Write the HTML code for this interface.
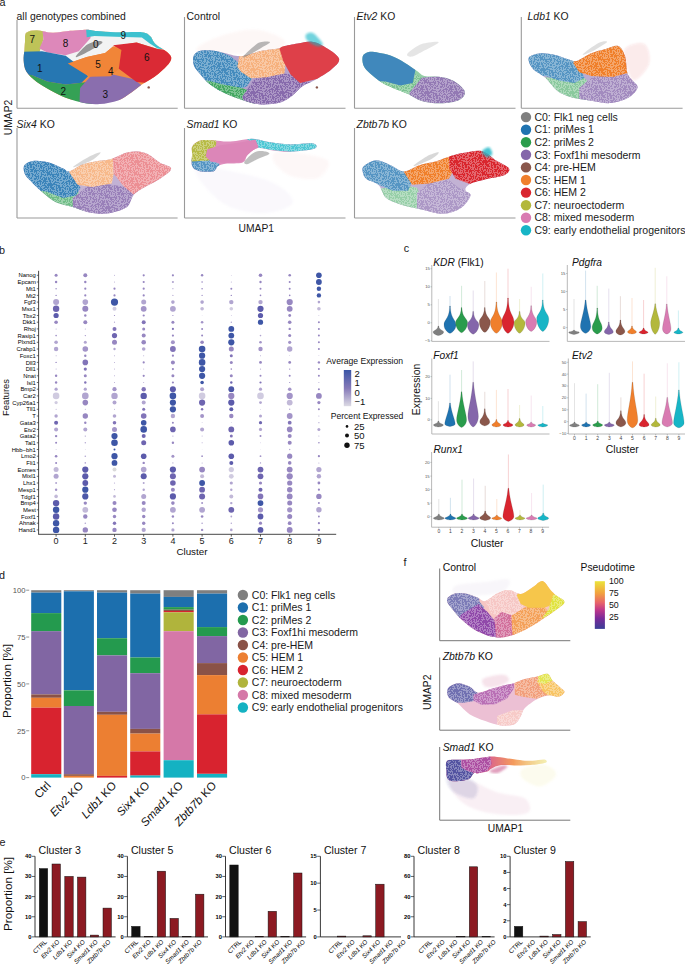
<!DOCTYPE html><html><head><meta charset="utf-8"><style>html,body{margin:0;padding:0;background:#fff;width:685px;height:966px;overflow:hidden}svg{display:block;font-family:"Liberation Sans",sans-serif}</style></head><body>
<svg width="685" height="966" viewBox="0 0 685 966" font-family="'Liberation Sans', sans-serif">
<defs><filter id="bl" x="-10%" y="-10%" width="120%" height="120%"><feGaussianBlur stdDeviation="1.2"/></filter><filter id="bl1" x="-5%" y="-5%" width="110%" height="110%"><feGaussianBlur stdDeviation="0.55"/></filter><filter id="bl2" x="-10%" y="-10%" width="120%" height="120%"><feGaussianBlur stdDeviation="2"/></filter><linearGradient id="avg" x1="0" y1="0" x2="0" y2="1"><stop offset="0" stop-color="#3a55a6"/><stop offset="0.5" stop-color="#8579b8"/><stop offset="1" stop-color="#dcdae4"/></linearGradient><linearGradient id="pst" x1="0" y1="0" x2="0" y2="1"><stop offset="0" stop-color="#ebe43a"/><stop offset="0.25" stop-color="#f2a23e"/><stop offset="0.45" stop-color="#e8646a"/><stop offset="0.6" stop-color="#c0388a"/><stop offset="0.78" stop-color="#7a2a9a"/><stop offset="1" stop-color="#3a3f96"/></linearGradient><pattern id="spf" patternUnits="userSpaceOnUse" width="29" height="23"><path d="M20.2,3.2h0.6v0.6h-0.6zM24.2,21.2h0.6v0.6h-0.6zM20.2,16.2h0.6v0.6h-0.6zM20.2,2.2h0.6v0.6h-0.6zM22.2,14.2h0.6v0.6h-0.6zM26.2,3.2h0.6v0.6h-0.6zM8.2,10.2h0.6v0.6h-0.6zM8.2,5.2h0.6v0.6h-0.6zM22.2,18.2h0.6v0.6h-0.6zM21.2,4.2h0.6v0.6h-0.6zM28.2,0.2h0.6v0.6h-0.6zM27.2,7.2h0.6v0.6h-0.6zM8.2,6.2h0.6v0.6h-0.6zM4.2,4.2h0.6v0.6h-0.6zM19.2,20.2h0.6v0.6h-0.6zM13.2,11.2h0.6v0.6h-0.6zM6.2,7.2h0.6v0.6h-0.6zM4.2,0.2h0.6v0.6h-0.6zM23.2,22.2h0.6v0.6h-0.6zM1.2,19.2h0.6v0.6h-0.6zM26.2,11.2h0.6v0.6h-0.6zM17.2,14.2h0.6v0.6h-0.6zM28.2,22.2h0.6v0.6h-0.6zM27.2,9.2h0.6v0.6h-0.6zM7.2,0.2h0.6v0.6h-0.6zM27.2,17.2h0.6v0.6h-0.6zM0.2,15.2h0.6v0.6h-0.6zM23.2,12.2h0.6v0.6h-0.6zM2.2,18.2h0.6v0.6h-0.6zM2.2,14.2h0.6v0.6h-0.6zM1.2,13.2h0.6v0.6h-0.6zM28.2,16.2h0.6v0.6h-0.6zM10.2,17.2h0.6v0.6h-0.6zM26.2,16.2h0.6v0.6h-0.6zM1.2,7.2h0.6v0.6h-0.6zM20.2,15.2h0.6v0.6h-0.6zM14.2,12.2h0.6v0.6h-0.6zM19.2,14.2h0.6v0.6h-0.6zM26.2,7.2h0.6v0.6h-0.6zM8.2,16.2h0.6v0.6h-0.6zM23.2,2.2h0.6v0.6h-0.6zM10.2,9.2h0.6v0.6h-0.6zM13.2,2.2h0.6v0.6h-0.6zM22.2,5.2h0.6v0.6h-0.6zM0.2,4.2h0.6v0.6h-0.6zM3.2,18.2h0.6v0.6h-0.6zM20.2,8.2h0.6v0.6h-0.6zM12.2,8.2h0.6v0.6h-0.6zM18.2,2.2h0.6v0.6h-0.6zM24.2,12.2h0.6v0.6h-0.6zM3.2,16.2h0.6v0.6h-0.6zM11.2,7.2h0.6v0.6h-0.6zM14.2,0.2h0.6v0.6h-0.6zM10.2,5.2h0.6v0.6h-0.6zM22.2,19.2h0.6v0.6h-0.6zM12.2,19.2h0.6v0.6h-0.6zM27.2,11.2h0.6v0.6h-0.6zM3.2,2.2h0.6v0.6h-0.6zM25.2,1.2h0.6v0.6h-0.6zM4.2,18.2h0.6v0.6h-0.6zM17.2,19.2h0.6v0.6h-0.6zM26.2,9.2h0.6v0.6h-0.6zM12.2,21.2h0.6v0.6h-0.6zM17.2,4.2h0.6v0.6h-0.6zM2.2,22.2h0.6v0.6h-0.6zM0.2,17.2h0.6v0.6h-0.6zM0.2,0.2h0.6v0.6h-0.6zM9.2,11.2h0.6v0.6h-0.6zM9.2,7.2h0.6v0.6h-0.6zM2.2,7.2h0.6v0.6h-0.6zM20.2,21.2h0.6v0.6h-0.6zM16.2,16.2h0.6v0.6h-0.6zM17.2,15.2h0.6v0.6h-0.6zM18.2,15.2h0.6v0.6h-0.6zM3.2,5.2h0.6v0.6h-0.6zM25.2,4.2h0.6v0.6h-0.6zM8.2,19.2h0.6v0.6h-0.6zM12.2,0.2h0.6v0.6h-0.6zM14.2,22.2h0.6v0.6h-0.6zM3.2,20.2h0.6v0.6h-0.6zM13.2,19.2h0.6v0.6h-0.6zM14.2,18.2h0.6v0.6h-0.6zM27.2,19.2h0.6v0.6h-0.6zM18.2,5.2h0.6v0.6h-0.6zM5.2,5.2h0.6v0.6h-0.6zM5.2,22.2h0.6v0.6h-0.6zM10.2,22.2h0.6v0.6h-0.6zM4.2,11.2h0.6v0.6h-0.6zM0.2,11.2h0.6v0.6h-0.6zM2.2,15.2h0.6v0.6h-0.6zM28.2,20.2h0.6v0.6h-0.6zM21.2,15.2h0.6v0.6h-0.6zM7.2,20.2h0.6v0.6h-0.6zM24.2,20.2h0.6v0.6h-0.6zM8.2,8.2h0.6v0.6h-0.6zM19.2,21.2h0.6v0.6h-0.6zM22.2,15.2h0.6v0.6h-0.6zM8.2,11.2h0.6v0.6h-0.6zM5.2,19.2h0.6v0.6h-0.6zM25.2,18.2h0.6v0.6h-0.6zM17.2,1.2h0.6v0.6h-0.6zM5.2,4.2h0.6v0.6h-0.6zM17.2,13.2h0.6v0.6h-0.6zM18.2,16.2h0.6v0.6h-0.6zM9.2,10.2h0.6v0.6h-0.6zM26.2,2.2h0.6v0.6h-0.6zM25.2,14.2h0.6v0.6h-0.6zM13.2,12.2h0.6v0.6h-0.6zM0.2,20.2h0.6v0.6h-0.6zM9.2,8.2h0.6v0.6h-0.6zM8.2,7.2h0.6v0.6h-0.6zM17.2,12.2h0.6v0.6h-0.6zM4.2,10.2h0.6v0.6h-0.6zM1.2,20.2h0.6v0.6h-0.6zM6.2,11.2h0.6v0.6h-0.6zM26.2,1.2h0.6v0.6h-0.6zM19.2,15.2h0.6v0.6h-0.6zM11.2,11.2h0.6v0.6h-0.6zM0.2,9.2h0.6v0.6h-0.6zM14.2,14.2h0.6v0.6h-0.6zM13.2,4.2h0.6v0.6h-0.6zM26.2,5.2h0.6v0.6h-0.6zM3.2,6.2h0.6v0.6h-0.6zM3.2,7.2h0.6v0.6h-0.6zM28.2,5.2h0.6v0.6h-0.6zM9.2,6.2h0.6v0.6h-0.6zM10.2,18.2h0.6v0.6h-0.6zM25.2,9.2h0.6v0.6h-0.6zM16.2,9.2h0.6v0.6h-0.6zM16.2,12.2h0.6v0.6h-0.6zM20.2,4.2h0.6v0.6h-0.6zM5.2,15.2h0.6v0.6h-0.6zM21.2,12.2h0.6v0.6h-0.6zM6.2,0.2h0.6v0.6h-0.6zM23.2,16.2h0.6v0.6h-0.6zM8.2,3.2h0.6v0.6h-0.6zM6.2,19.2h0.6v0.6h-0.6zM25.2,11.2h0.6v0.6h-0.6zM10.2,3.2h0.6v0.6h-0.6zM11.2,2.2h0.6v0.6h-0.6zM27.2,14.2h0.6v0.6h-0.6zM7.2,1.2h0.6v0.6h-0.6zM8.2,17.2h0.6v0.6h-0.6zM17.2,6.2h0.6v0.6h-0.6zM21.2,11.2h0.6v0.6h-0.6zM3.2,11.2h0.6v0.6h-0.6zM18.2,17.2h0.6v0.6h-0.6zM2.2,2.2h0.6v0.6h-0.6zM4.2,14.2h0.6v0.6h-0.6zM4.2,19.2h0.6v0.6h-0.6zM1.2,16.2h0.6v0.6h-0.6zM11.2,8.2h0.6v0.6h-0.6zM10.2,14.2h0.6v0.6h-0.6zM17.2,10.2h0.6v0.6h-0.6zM11.2,10.2h0.6v0.6h-0.6zM24.2,11.2h0.6v0.6h-0.6zM18.2,7.2h0.6v0.6h-0.6zM28.2,12.2h0.6v0.6h-0.6zM13.2,6.2h0.6v0.6h-0.6zM10.2,21.2h0.6v0.6h-0.6zM6.2,12.2h0.6v0.6h-0.6zM11.2,13.2h0.6v0.6h-0.6zM25.2,12.2h0.6v0.6h-0.6zM27.2,10.2h0.6v0.6h-0.6zM16.2,0.2h0.6v0.6h-0.6zM21.2,17.2h0.6v0.6h-0.6zM1.2,12.2h0.6v0.6h-0.6zM27.2,20.2h0.6v0.6h-0.6zM5.2,1.2h0.6v0.6h-0.6zM10.2,15.2h0.6v0.6h-0.6zM12.2,10.2h0.6v0.6h-0.6zM27.2,22.2h0.6v0.6h-0.6zM18.2,22.2h0.6v0.6h-0.6zM13.2,16.2h0.6v0.6h-0.6zM13.2,15.2h0.6v0.6h-0.6zM1.2,14.2h0.6v0.6h-0.6zM6.2,5.2h0.6v0.6h-0.6zM4.2,16.2h0.6v0.6h-0.6zM20.2,9.2h0.6v0.6h-0.6zM26.2,22.2h0.6v0.6h-0.6zM4.2,12.2h0.6v0.6h-0.6zM16.2,15.2h0.6v0.6h-0.6zM0.2,8.2h0.6v0.6h-0.6zM21.2,18.2h0.6v0.6h-0.6zM25.2,6.2h0.6v0.6h-0.6zM9.2,3.2h0.6v0.6h-0.6zM9.2,21.2h0.6v0.6h-0.6zM5.2,12.2h0.6v0.6h-0.6zM26.2,12.2h0.6v0.6h-0.6zM1.2,0.2h0.6v0.6h-0.6zM3.2,21.2h0.6v0.6h-0.6zM6.2,6.2h0.6v0.6h-0.6zM8.2,4.2h0.6v0.6h-0.6zM11.2,18.2h0.6v0.6h-0.6zM12.2,16.2h0.6v0.6h-0.6zM2.2,21.2h0.6v0.6h-0.6zM2.2,1.2h0.6v0.6h-0.6zM8.2,1.2h0.6v0.6h-0.6zM3.2,1.2h0.6v0.6h-0.6zM19.2,19.2h0.6v0.6h-0.6zM10.2,0.2h0.6v0.6h-0.6zM7.2,8.2h0.6v0.6h-0.6zM23.2,18.2h0.6v0.6h-0.6zM16.2,7.2h0.6v0.6h-0.6zM15.2,8.2h0.6v0.6h-0.6zM11.2,14.2h0.6v0.6h-0.6zM13.2,0.2h0.6v0.6h-0.6zM28.2,2.2h0.6v0.6h-0.6zM13.2,3.2h0.6v0.6h-0.6zM28.2,17.2h0.6v0.6h-0.6zM23.2,19.2h0.6v0.6h-0.6zM10.2,13.2h0.6v0.6h-0.6zM7.2,22.2h0.6v0.6h-0.6zM15.2,13.2h0.6v0.6h-0.6zM6.2,21.2h0.6v0.6h-0.6zM28.2,8.2h0.6v0.6h-0.6zM0.2,10.2h0.6v0.6h-0.6zM13.2,7.2h0.6v0.6h-0.6zM14.2,3.2h0.6v0.6h-0.6zM1.2,15.2h0.6v0.6h-0.6zM10.2,16.2h0.6v0.6h-0.6zM1.2,11.2h0.6v0.6h-0.6zM16.2,6.2h0.6v0.6h-0.6zM23.2,21.2h0.6v0.6h-0.6zM7.2,2.2h0.6v0.6h-0.6zM3.2,0.2h0.6v0.6h-0.6zM21.2,8.2h0.6v0.6h-0.6zM19.2,10.2h0.6v0.6h-0.6zM10.2,1.2h0.6v0.6h-0.6zM12.2,3.2h0.6v0.6h-0.6zM20.2,14.2h0.6v0.6h-0.6zM23.2,9.2h0.6v0.6h-0.6zM0.2,22.2h0.6v0.6h-0.6zM18.2,21.2h0.6v0.6h-0.6zM18.2,19.2h0.6v0.6h-0.6zM15.2,15.2h0.6v0.6h-0.6zM2.2,20.2h0.6v0.6h-0.6zM25.2,19.2h0.6v0.6h-0.6zM7.2,13.2h0.6v0.6h-0.6zM7.2,19.2h0.6v0.6h-0.6zM24.2,1.2h0.6v0.6h-0.6zM15.2,5.2h0.6v0.6h-0.6zM10.2,12.2h0.6v0.6h-0.6zM22.2,10.2h0.6v0.6h-0.6zM27.2,18.2h0.6v0.6h-0.6zM26.2,19.2h0.6v0.6h-0.6zM23.2,10.2h0.6v0.6h-0.6zM22.2,21.2h0.6v0.6h-0.6zM12.2,17.2h0.6v0.6h-0.6zM0.2,7.2h0.6v0.6h-0.6zM13.2,20.2h0.6v0.6h-0.6zM14.2,17.2h0.6v0.6h-0.6zM24.2,17.2h0.6v0.6h-0.6zM22.2,20.2h0.6v0.6h-0.6zM12.2,22.2h0.6v0.6h-0.6zM0.2,6.2h0.6v0.6h-0.6zM24.2,7.2h0.6v0.6h-0.6zM27.2,15.2h0.6v0.6h-0.6zM1.2,18.2h0.6v0.6h-0.6zM2.2,0.2h0.6v0.6h-0.6zM14.2,5.2h0.6v0.6h-0.6zM2.2,13.2h0.6v0.6h-0.6zM5.2,16.2h0.6v0.6h-0.6zM18.2,8.2h0.6v0.6h-0.6zM16.2,4.2h0.6v0.6h-0.6zM20.2,5.2h0.6v0.6h-0.6zM8.2,14.2h0.6v0.6h-0.6zM16.2,8.2h0.6v0.6h-0.6zM15.2,10.2h0.6v0.6h-0.6zM26.2,6.2h0.6v0.6h-0.6zM10.2,4.2h0.6v0.6h-0.6zM9.2,18.2h0.6v0.6h-0.6zM10.2,6.2h0.6v0.6h-0.6zM12.2,1.2h0.6v0.6h-0.6zM28.2,3.2h0.6v0.6h-0.6zM11.2,12.2h0.6v0.6h-0.6zM25.2,20.2h0.6v0.6h-0.6zM22.2,6.2h0.6v0.6h-0.6zM18.2,6.2h0.6v0.6h-0.6zM6.2,20.2h0.6v0.6h-0.6zM13.2,8.2h0.6v0.6h-0.6zM1.2,21.2h0.6v0.6h-0.6zM19.2,9.2h0.6v0.6h-0.6zM25.2,3.2h0.6v0.6h-0.6zM5.2,2.2h0.6v0.6h-0.6zM15.2,12.2h0.6v0.6h-0.6zM2.2,11.2h0.6v0.6h-0.6zM11.2,1.2h0.6v0.6h-0.6zM21.2,9.2h0.6v0.6h-0.6zM14.2,15.2h0.6v0.6h-0.6zM23.2,11.2h0.6v0.6h-0.6zM23.2,6.2h0.6v0.6h-0.6zM0.2,5.2h0.6v0.6h-0.6zM22.2,16.2h0.6v0.6h-0.6zM6.2,16.2h0.6v0.6h-0.6zM3.2,4.2h0.6v0.6h-0.6zM15.2,2.2h0.6v0.6h-0.6zM13.2,14.2h0.6v0.6h-0.6zM25.2,16.2h0.6v0.6h-0.6zM17.2,0.2h0.6v0.6h-0.6zM3.2,17.2h0.6v0.6h-0.6zM7.2,14.2h0.6v0.6h-0.6zM18.2,18.2h0.6v0.6h-0.6zM9.2,19.2h0.6v0.6h-0.6zM25.2,8.2h0.6v0.6h-0.6zM5.2,8.2h0.6v0.6h-0.6zM7.2,6.2h0.6v0.6h-0.6zM9.2,0.2h0.6v0.6h-0.6zM25.2,10.2h0.6v0.6h-0.6zM5.2,13.2h0.6v0.6h-0.6zM4.2,9.2h0.6v0.6h-0.6zM14.2,2.2h0.6v0.6h-0.6zM9.2,13.2h0.6v0.6h-0.6zM24.2,2.2h0.6v0.6h-0.6zM4.2,17.2h0.6v0.6h-0.6zM8.2,12.2h0.6v0.6h-0.6zM4.2,20.2h0.6v0.6h-0.6zM17.2,21.2h0.6v0.6h-0.6zM26.2,14.2h0.6v0.6h-0.6zM4.2,15.2h0.6v0.6h-0.6zM19.2,4.2h0.6v0.6h-0.6zM26.2,4.2h0.6v0.6h-0.6zM16.2,11.2h0.6v0.6h-0.6zM7.2,18.2h0.6v0.6h-0.6zM24.2,6.2h0.6v0.6h-0.6zM1.2,9.2h0.6v0.6h-0.6zM6.2,3.2h0.6v0.6h-0.6zM15.2,21.2h0.6v0.6h-0.6zM23.2,8.2h0.6v0.6h-0.6zM20.2,6.2h0.6v0.6h-0.6zM10.2,11.2h0.6v0.6h-0.6zM6.2,2.2h0.6v0.6h-0.6zM15.2,7.2h0.6v0.6h-0.6z" fill="#fff"/></pattern></defs>
<rect width="685" height="966" fill="#fff"/>
<text x="-0.6" y="5.9" font-size="10.8" text-anchor="start" fill="#1a1a1a">a</text>
<line x1="17" y1="20" x2="17" y2="108.3" stroke="#9a9a9a" stroke-width="1.1"/>
<line x1="17" y1="108.3" x2="177.7" y2="108.3" stroke="#9a9a9a" stroke-width="1.1"/>
<line x1="184.5" y1="17" x2="184.5" y2="108.3" stroke="#9a9a9a" stroke-width="1.1"/>
<line x1="184.5" y1="108.3" x2="345.5" y2="108.3" stroke="#9a9a9a" stroke-width="1.1"/>
<line x1="354.5" y1="17" x2="354.5" y2="108.3" stroke="#9a9a9a" stroke-width="1.1"/>
<line x1="354.5" y1="108.3" x2="515.5" y2="108.3" stroke="#9a9a9a" stroke-width="1.1"/>
<line x1="521.3" y1="17" x2="521.3" y2="108.3" stroke="#9a9a9a" stroke-width="1.1"/>
<line x1="521.3" y1="108.3" x2="682.6" y2="108.3" stroke="#9a9a9a" stroke-width="1.1"/>
<line x1="17" y1="128" x2="17" y2="218" stroke="#9a9a9a" stroke-width="1.1"/>
<line x1="17" y1="218" x2="177.6" y2="218" stroke="#9a9a9a" stroke-width="1.1"/>
<line x1="184.5" y1="128" x2="184.5" y2="218" stroke="#9a9a9a" stroke-width="1.1"/>
<line x1="184.5" y1="218" x2="345.5" y2="218" stroke="#9a9a9a" stroke-width="1.1"/>
<line x1="354.5" y1="128" x2="354.5" y2="218" stroke="#9a9a9a" stroke-width="1.1"/>
<line x1="354.5" y1="218" x2="515.5" y2="218" stroke="#9a9a9a" stroke-width="1.1"/>
<clipPath id="cp1"><path d="M26.3,32.8C28.2,30.9 32.4,30.2 36.8,30.2C41.2,30.2 47.3,32.7 52.5,32.8C57.8,33.0 62.6,31.5 68.3,31.0C74.0,30.5 81.9,29.7 86.7,29.7C91.5,29.7 92.4,30.6 97.2,31.0C102.0,31.4 108.2,32.1 115.6,32.3C123.1,32.5 136.1,31.7 141.9,32.3C147.7,33.0 148.0,34.3 150.3,36.3C152.6,38.2 152.0,40.6 155.5,44.1C159.0,47.7 170.9,52.8 171.3,57.8C171.7,62.8 163.1,69.6 158.2,74.1C153.3,78.6 146.3,81.5 141.9,84.6C137.4,87.7 135.3,89.9 131.4,92.5C127.4,95.1 123.5,98.4 118.2,100.4C113.0,102.3 105.5,103.6 99.8,104.0C94.1,104.5 89.8,104.0 84.1,103.0C78.4,101.9 71.4,99.9 65.7,97.7C60.0,95.6 54.7,92.5 49.9,89.9C45.1,87.2 40.7,85.0 36.8,82.0C32.8,78.9 28.5,75.1 26.3,71.5C24.1,67.9 24.0,64.0 23.6,60.4C23.3,56.8 24.2,53.0 24.4,49.9C24.7,46.9 24.7,44.9 25.0,42.0C25.3,39.2 24.3,34.8 26.3,32.8Z"/></clipPath>
<g filter="url(#bl1)"><g clip-path="url(#cp1)">
<rect x="0" y="0" width="180" height="100" fill="#f28c41"/>
<polygon points="0.0,0.0 183.9,0.0 183.9,52.5 157.6,48.9 136.6,42.6 113.0,46.5 105.1,53.1 86.7,57.0 67.8,63.6 0.0,63.6" fill="#f2f3f3"/>
<polygon points="0.0,0.0 42.0,0.0 43.4,39.4 39.4,52.5 23.6,53.9 0.0,55.2" fill="#bec359"/>
<polygon points="39.4,0.0 86.7,0.0 90.6,38.1 78.8,51.2 65.7,55.2 47.3,52.5 39.4,48.6 43.4,39.4" fill="#dd88ba"/>
<polygon points="84.1,0.0 183.9,0.0 183.9,52.5 157.6,48.6 149.8,43.4 141.9,37.6 115.6,36.8 94.6,36.0 86.7,37.3" fill="#3cc1cf"/>
<polygon points="0.0,73.6 31.5,74.9 47.3,81.5 65.7,84.6 81.5,82.8 90.6,81.5 94.6,118.2 0.0,118.2" fill="#35a155"/>
<polygon points="0.0,52.5 42.0,51.2 65.7,55.7 78.8,65.7 88.0,76.2 81.5,82.8 65.7,84.6 47.3,81.5 31.5,74.9 0.0,73.6" fill="#2677b2"/>
<polygon points="78.8,118.2 80.1,88.0 90.6,76.2 110.4,74.1 134.0,79.3 183.9,118.2" fill="#8a6eae"/>
<polygon points="67.8,63.6 86.7,57.0 105.1,53.1 113.0,46.5 121.4,49.9 118.8,68.8 110.9,76.2 89.3,76.7" fill="#f18537"/>
<polygon points="113.0,45.2 136.6,42.6 157.6,48.9 183.9,52.5 183.9,86.7 136.6,82.0 118.8,68.8 121.4,49.9" fill="#da2c35"/>
</g></g>
<path d="M76.4,55.6C77.9,53.6 83.8,47.0 87.3,44.6C90.7,42.2 94.4,41.5 96.9,41.2C99.4,40.9 103.7,41.1 102.2,42.9C100.7,44.6 91.8,49.5 87.7,51.8C83.7,54.1 80.0,56.0 78.1,56.6C76.2,57.3 74.9,57.7 76.4,55.6Z" fill="#7f7f7f" fill-opacity="0.8"/>
<circle cx="148.7" cy="87.4" r="1.2" fill="#8a574b"/>
<text x="32.3" y="42.9" font-size="10" text-anchor="middle" fill="#111">7</text>
<text x="65.6" y="46.5" font-size="10" text-anchor="middle" fill="#111">8</text>
<text x="95.7" y="47.7" font-size="10" text-anchor="middle" fill="#111">0</text>
<text x="123.4" y="39.3" font-size="10" text-anchor="middle" fill="#111">9</text>
<text x="39.8" y="71.8" font-size="10" text-anchor="middle" fill="#111">1</text>
<text x="98.1" y="68.2" font-size="10" text-anchor="middle" fill="#111">5</text>
<text x="110.9" y="75.4" font-size="10" text-anchor="middle" fill="#111">4</text>
<text x="146.7" y="61.4" font-size="10" text-anchor="middle" fill="#111">6</text>
<text x="63.2" y="95.1" font-size="10" text-anchor="middle" fill="#111">2</text>
<text x="105.3" y="98.3" font-size="10" text-anchor="middle" fill="#111">3</text>
<path d="M196.5,48.9C197.7,46.1 208.5,40.1 218.1,36.9C227.8,33.6 243.4,29.2 254.3,29.6C265.1,30.0 279.1,36.1 283.2,39.3C287.2,42.5 285.2,46.5 278.3,48.9C271.5,51.3 253.5,52.9 242.2,53.7C231.0,54.5 218.5,54.5 210.9,53.7C203.3,52.9 195.2,51.7 196.5,48.9Z" fill="#e38a7a" fill-opacity="0.07" filter="url(#bl)"/>
<clipPath id="cp2"><path d="M193.6,56.1C194.4,53.7 196.4,52.3 198.9,51.3C201.3,50.3 204.9,50.2 208.5,50.3C212.1,50.5 215.7,51.1 220.5,52.0C225.4,53.0 233.0,55.6 237.4,56.1C241.8,56.6 243.0,55.8 247.0,54.9C251.0,54.0 256.3,51.9 261.5,50.8C266.7,49.7 274.7,49.1 278.3,48.4C282.0,47.7 279.9,47.3 283.2,46.5C286.4,45.7 292.8,44.4 297.6,43.6C302.4,42.8 307.6,41.2 312.1,41.7C316.5,42.2 319.6,43.7 324.1,46.5C328.6,49.3 337.8,54.7 339.0,58.5C340.2,62.3 335.4,65.8 331.3,69.4C327.2,73.0 319.3,77.4 314.5,80.2C309.6,83.0 306.4,83.4 302.4,86.2C298.4,89.0 294.4,94.3 290.4,97.1C286.4,99.9 283.6,101.9 278.3,103.1C273.1,104.3 265.1,104.8 259.1,104.3C253.1,103.8 247.8,101.8 242.2,100.0C236.6,98.2 230.6,95.9 225.4,93.5C220.1,91.0 214.9,88.0 210.9,85.0C206.9,82.0 204.1,78.6 201.3,75.4C198.5,72.2 195.3,69.0 194.0,65.8C192.8,62.5 192.8,58.5 193.6,56.1Z"/></clipPath>
<g filter="url(#bl1)"><g clip-path="url(#cp2)">
<rect x="182" y="20" width="180" height="100" fill="#b5a3cc"/>
<polygon points="182.0,44.1 213.3,48.9 230.2,56.1 242.2,65.8 252.3,77.8 247.0,86.2 235.0,91.1 182.0,92.3" fill="#458bbd"/><polygon points="182.0,44.1 213.3,48.9 230.2,56.1 242.2,65.8 252.3,77.8 247.0,86.2 235.0,91.1 182.0,92.3" fill="url(#spf)"/>
<polygon points="182.0,80.2 208.5,80.7 222.9,84.5 239.8,87.4 254.7,92.3 254.3,116.3 182.0,116.3" fill="#44a862"/><polygon points="182.0,80.2 208.5,80.7 222.9,84.5 239.8,87.4 254.7,92.3 254.3,116.3 182.0,116.3" fill="url(#spf)"/>
<polygon points="242.2,97.1 254.3,79.0 273.5,73.0 291.6,74.2 307.2,81.4 350.6,92.3 350.6,116.3 249.4,116.3" fill="#876aac"/><polygon points="242.2,97.1 254.3,79.0 273.5,73.0 291.6,74.2 307.2,81.4 350.6,92.3 350.6,116.3 249.4,116.3" fill="url(#spf)"/>
<polygon points="237.4,67.0 244.6,20.0 283.2,20.0 286.0,59.7 284.4,73.5 266.3,77.3 250.6,78.3 241.0,71.8" fill="#f6b17e"/><polygon points="237.4,67.0 244.6,20.0 283.2,20.0 286.0,59.7 284.4,73.5 266.3,77.3 250.6,78.3 241.0,71.8" fill="url(#spf)"/>
<polygon points="280.7,20.0 350.6,20.0 350.6,116.3 316.9,79.0 300.0,83.1 290.4,74.2 283.2,60.9 279.5,48.4" fill="#de3f48"/>
</g></g>
<path d="M306.0,34.5C307.0,33.2 310.5,31.6 313.3,33.2C316.1,34.9 322.3,42.0 322.9,44.1C323.5,46.2 319.5,46.6 316.9,46.0C314.3,45.4 309.0,42.4 307.2,40.5C305.4,38.5 305.0,35.7 306.0,34.5Z" fill="#17b5c6" fill-opacity="0.6" filter="url(#bl)"/>
<path d="M243.4,56.1C244.8,54.4 251.4,48.3 254.3,46.0C257.1,43.7 257.7,42.8 260.3,42.2C262.9,41.5 269.7,41.2 269.9,42.2C270.1,43.1 265.5,45.3 261.5,47.7C257.5,50.1 248.8,55.2 245.8,56.6C242.8,58.0 242.0,57.9 243.4,56.1Z" fill="#7f7f7f" fill-opacity="0.55"/>
<circle cx="316.9" cy="87.4" r="1.2" fill="#8a574b"/>
<clipPath id="cp3"><path d="M362.8,56.1C363.7,53.8 366.3,52.6 368.9,52.0C371.5,51.5 374.9,52.2 378.5,52.8C382.1,53.4 386.1,54.0 390.5,55.6C395.0,57.3 400.6,60.3 405.0,62.9C409.4,65.4 413.8,68.9 417.0,71.1C420.2,73.2 420.6,74.9 424.3,75.9C427.9,76.8 433.9,76.0 438.7,76.8C443.5,77.6 448.8,78.3 453.2,80.7C457.5,83.1 463.7,88.1 464.7,91.3C465.7,94.5 463.1,98.0 459.2,100.0C455.2,102.0 447.3,103.2 441.1,103.3C434.9,103.5 427.5,102.5 421.8,100.9C416.2,99.3 412.2,95.9 407.4,93.7C402.6,91.5 397.4,89.9 392.9,87.9C388.5,86.0 384.7,84.3 380.9,81.9C377.1,79.5 373.0,76.2 370.1,73.5C367.2,70.8 364.8,68.7 363.6,65.8C362.4,62.9 362.0,58.4 362.8,56.1Z"/></clipPath>
<g filter="url(#bl1)"><g clip-path="url(#cp3)">
<rect x="352" y="20" width="180" height="100" fill="#94cea6"/>
<polygon points="352.0,80.2 383.3,80.7 400.2,75.4 415.1,73.5 424.7,80.2 421.8,92.7 407.4,93.5 352.0,116.3" fill="#7dc392"/><polygon points="352.0,80.2 383.3,80.7 400.2,75.4 415.1,73.5 424.7,80.2 421.8,92.7 407.4,93.5 352.0,116.3" fill="url(#spf)"/>
<polygon points="352.0,20.0 424.3,20.0 415.1,71.8 412.7,83.1 400.2,85.5 385.7,81.4 352.0,80.2" fill="#4188bc"/>
<polygon points="407.4,116.3 409.8,92.3 421.8,77.8 438.7,75.9 520.6,68.2 520.6,116.3" fill="#9379b4"/><polygon points="407.4,116.3 409.8,92.3 421.8,77.8 438.7,75.9 520.6,68.2 520.6,116.3" fill="url(#spf)"/>
</g></g>
<path d="M407.4,53.7C409.0,51.6 416.6,46.0 421.8,44.1C427.1,42.2 438.3,41.1 438.7,42.2C439.1,43.2 428.7,48.2 424.3,50.6C419.8,53.0 415.0,56.1 412.2,56.6C409.4,57.1 405.8,55.8 407.4,53.7Z" fill="#7f7f7f" fill-opacity="0.2"/>
<clipPath id="cp4"><path d="M529.8,56.6C531.8,55.1 536.5,53.5 540.7,53.2C544.9,53.0 550.3,53.8 555.1,54.9C559.9,56.0 566.0,58.7 569.6,59.7C573.2,60.7 573.2,62.0 576.8,60.9C580.4,59.9 586.4,55.2 591.3,53.2C596.1,51.2 601.2,50.1 605.7,48.9C610.2,47.7 615.0,44.8 618.2,46.0C621.4,47.2 623.4,51.6 625.0,56.1C626.5,60.6 626.2,69.0 627.4,73.0C628.6,77.0 630.5,77.8 632.2,80.2C633.9,82.6 638.1,84.5 637.5,87.4C636.9,90.3 633.1,94.9 628.6,97.6C624.1,100.2 616.7,102.6 610.5,103.1C604.3,103.6 597.7,101.6 591.3,100.7C584.8,99.8 577.6,99.2 572.0,97.6C566.4,95.9 562.0,94.3 557.5,91.1C553.1,87.8 549.5,81.4 545.5,77.8C541.5,74.2 536.2,72.0 533.5,69.4C530.7,66.8 529.7,64.3 529.1,62.1C528.5,60.0 527.9,58.1 529.8,56.6Z"/></clipPath>
<g filter="url(#bl1)"><g clip-path="url(#cp4)">
<rect x="519" y="20" width="180" height="100" fill="#bbabd0"/>
<polygon points="519.0,75.4 550.3,77.8 567.2,73.0 581.6,75.4 591.7,85.0 586.9,116.3 519.0,116.3" fill="#8ac99d"/><polygon points="519.0,75.4 550.3,77.8 567.2,73.0 581.6,75.4 591.7,85.0 586.9,116.3 519.0,116.3" fill="url(#spf)"/>
<polygon points="519.0,20.0 569.6,20.0 574.4,62.1 579.7,68.2 584.5,77.8 574.4,83.1 559.9,80.7 545.5,75.9 519.0,75.4" fill="#5695c3"/><polygon points="519.0,20.0 569.6,20.0 574.4,62.1 579.7,68.2 584.5,77.8 574.4,83.1 559.9,80.7 545.5,75.9 519.0,75.4" fill="url(#spf)"/>
<polygon points="579.2,116.3 579.2,87.9 591.3,77.8 610.5,73.5 625.5,74.2 687.6,82.6 687.6,116.3" fill="#a28bbf"/><polygon points="579.2,116.3 579.2,87.9 591.3,77.8 610.5,73.5 625.5,74.2 687.6,82.6 687.6,116.3" fill="url(#spf)"/>
<polygon points="573.2,62.9 591.3,20.0 687.6,20.0 687.6,68.2 625.5,73.5 612.9,77.1 591.3,75.9 579.2,72.3" fill="#f07f2c"/><polygon points="573.2,62.9 591.3,20.0 687.6,20.0 687.6,68.2 625.5,73.5 612.9,77.1 591.3,75.9 579.2,72.3" fill="url(#spf)"/>
</g></g>
<path d="M582.8,54.2C584.0,52.7 594.5,44.9 598.5,42.9C602.5,40.9 608.1,40.7 606.9,42.2C605.7,43.6 595.3,49.8 591.3,51.8C587.2,53.8 581.6,55.7 582.8,54.2Z" fill="#7f7f7f" fill-opacity="0.25"/>
<path d="M625.0,48.9C627.8,44.9 640.2,41.7 644.2,44.1C648.3,46.5 650.7,57.3 649.1,63.4C647.5,69.4 638.2,79.4 634.6,80.2C631.0,81.0 629.0,73.4 627.4,68.2C625.8,63.0 622.2,52.9 625.0,48.9Z" fill="#d9252f" fill-opacity="0.1" filter="url(#bl)"/>
<clipPath id="cp5"><path d="M24.6,164.9C26.2,162.8 30.3,161.2 34.3,160.8C38.3,160.4 43.9,161.2 48.7,162.5C53.5,163.8 59.8,167.1 63.2,168.5C66.6,170.0 66.0,172.1 69.2,171.4C72.4,170.7 77.4,166.2 82.4,164.4C87.5,162.7 94.5,161.8 99.3,160.8C104.1,159.9 106.5,160.3 111.3,158.9C116.2,157.5 122.6,153.1 128.2,152.2C133.8,151.2 139.8,151.4 145.1,153.1C150.3,154.8 155.2,159.9 159.5,162.5C163.8,165.1 170.9,165.9 171.1,168.5C171.3,171.1 165.4,174.9 160.7,178.2C156.0,181.5 147.2,185.5 142.6,188.3C138.1,191.1 136.2,191.8 133.5,195.0C130.8,198.2 130.8,204.5 126.3,207.6C121.8,210.6 113.0,212.9 106.5,213.6C100.0,214.3 92.9,213.0 87.3,211.9C81.6,210.8 78.0,208.7 72.8,207.1C67.6,205.5 61.2,204.9 55.9,202.3C50.7,199.6 45.7,194.9 41.5,191.4C37.3,187.9 33.5,184.1 30.7,181.1C27.8,178.0 25.6,176.0 24.6,173.4C23.6,170.7 23.0,167.0 24.6,164.9Z"/></clipPath>
<g filter="url(#bl1)"><g clip-path="url(#cp5)">
<rect x="15" y="130" width="180" height="100" fill="#c2b2d4"/>
<polygon points="15.0,187.8 43.9,190.7 60.8,186.6 77.6,190.2 82.9,202.7 82.9,226.3 15.0,226.3" fill="#70bd87"/><polygon points="15.0,187.8 43.9,190.7 60.8,186.6 77.6,190.2 82.9,202.7 82.9,226.3 15.0,226.3" fill="url(#spf)"/>
<polygon points="15.0,130.0 65.6,130.0 69.2,172.1 73.3,178.2 80.5,187.8 75.7,195.5 63.2,197.9 46.3,191.4 15.0,187.8" fill="#3a84ba"/><polygon points="15.0,130.0 65.6,130.0 69.2,172.1 73.3,178.2 80.5,187.8 75.7,195.5 63.2,197.9 46.3,191.4 15.0,187.8" fill="url(#spf)"/>
<polygon points="72.8,226.3 72.8,197.9 87.3,186.6 106.5,184.2 123.9,186.6 183.6,202.3 183.6,226.3" fill="#9980b9"/><polygon points="72.8,226.3 72.8,197.9 87.3,186.6 106.5,184.2 123.9,186.6 183.6,202.3 183.6,226.3" fill="url(#spf)"/>
<polygon points="69.2,172.1 72.8,130.0 111.3,130.0 113.7,173.4 111.8,183.5 92.1,187.1 77.6,184.7" fill="#f7b98b"/><polygon points="69.2,172.1 72.8,130.0 111.3,130.0 113.7,173.4 111.8,183.5 92.1,187.1 77.6,184.7" fill="url(#spf)"/>
<polygon points="111.3,130.0 183.6,130.0 183.6,190.2 133.5,194.5 123.4,185.9 113.7,173.4" fill="#ec8f94"/><polygon points="111.3,130.0 183.6,130.0 183.6,190.2 133.5,194.5 123.4,185.9 113.7,173.4" fill="url(#spf)"/>
</g></g>
<path d="M74.0,166.1C75.8,164.6 82.8,160.0 87.3,157.7C91.7,155.4 99.7,152.0 100.5,152.4C101.3,152.8 96.1,157.7 92.1,160.1C88.1,162.5 79.4,165.6 76.4,166.6C73.4,167.6 72.2,167.6 74.0,166.1Z" fill="#7f7f7f" fill-opacity="0.3"/>
<path d="M196.5,168.5C200.5,165.7 217.3,168.5 230.2,170.9C243.0,173.4 263.1,177.8 273.5,183.0C284.0,188.2 294.0,197.2 292.8,202.3C291.6,207.3 276.7,212.3 266.3,213.1C255.9,213.9 240.2,211.3 230.2,207.1C220.1,202.9 211.7,194.2 206.1,187.8C200.5,181.4 192.4,171.3 196.5,168.5Z" fill="#b9a8d8" fill-opacity="0.08" filter="url(#bl)"/>
<path d="M278.3,151.7C285.6,150.9 308.4,154.5 316.9,156.5C325.3,158.5 328.9,160.1 328.9,163.7C328.9,167.3 323.3,176.2 316.9,178.2C310.5,180.2 297.6,178.6 290.4,175.8C283.2,173.0 275.5,165.3 273.5,161.3C271.5,157.3 271.1,152.5 278.3,151.7Z" fill="#e88a8a" fill-opacity="0.07" filter="url(#bl)"/>
<clipPath id="cp6"><path d="M192.8,145.7C194.8,143.3 197.5,140.8 203.7,140.1C209.9,139.4 222.1,141.8 230.2,141.6C238.2,141.3 245.4,138.6 251.8,138.7C258.3,138.8 262.3,141.1 268.7,142.0C275.1,143.0 283.0,144.2 290.4,144.5C297.8,144.7 309.3,142.8 313.3,143.5C317.2,144.2 317.8,147.4 314.0,148.8C310.2,150.2 297.1,151.4 290.4,151.7C283.6,152.0 278.9,151.1 273.5,150.5C268.1,149.9 262.2,147.3 257.9,148.1C253.5,148.9 250.0,152.9 247.5,155.3C245.0,157.7 246.4,161.1 242.7,162.5C239.0,163.9 229.4,163.1 225.4,163.7C221.3,164.3 220.1,164.8 218.1,166.1C216.1,167.4 216.5,170.6 213.3,171.4C210.1,172.2 202.4,171.8 198.9,170.9C195.3,170.1 193.2,168.9 192.1,166.1C191.0,163.3 192.0,157.5 192.1,154.1C192.2,150.7 190.9,148.0 192.8,145.7Z"/></clipPath>
<g filter="url(#bl1)"><g clip-path="url(#cp6)">
<rect x="182" y="130" width="180" height="100" fill="#df8fbe"/>
<polygon points="182.0,158.9 206.1,158.4 219.3,163.7 219.3,178.2 182.0,178.2" fill="#5695c3"/><polygon points="182.0,158.9 206.1,158.4 219.3,163.7 219.3,178.2 182.0,178.2" fill="url(#spf)"/>
<polygon points="182.0,130.0 216.2,130.0 216.2,143.2 213.8,154.1 209.0,160.6 182.0,161.8" fill="#b7bb46"/><polygon points="182.0,130.0 216.2,130.0 216.2,143.2 213.8,154.1 209.0,160.6 182.0,161.8" fill="url(#spf)"/>
<polygon points="230.2,130.0 350.6,130.0 350.6,178.2 290.4,151.7 273.5,150.2 257.9,148.1 254.3,143.2" fill="#50c7d4"/><polygon points="230.2,130.0 350.6,130.0 350.6,178.2 290.4,151.7 273.5,150.2 257.9,148.1 254.3,143.2" fill="url(#spf)"/>
<polygon points="207.3,149.3 220.5,145.2 239.8,142.5 255.5,139.6 258.6,147.3 247.5,154.6 242.7,161.8 225.4,163.0 210.9,161.8 205.6,156.5" fill="#dc86b8"/>
</g></g>
<path d="M244.6,161.3C245.8,159.3 251.0,154.1 254.3,152.4C257.5,150.7 261.4,150.9 263.9,151.2C266.4,151.5 270.4,152.7 269.2,154.1C268.0,155.4 260.4,157.7 256.7,159.4C253.0,161.1 249.0,163.9 247.0,164.2C245.0,164.5 243.4,163.3 244.6,161.3Z" fill="#7f7f7f" fill-opacity="0.5"/>
<clipPath id="cp7"><path d="M364.0,166.1C366.3,164.2 371.7,160.5 376.1,160.3C380.5,160.2 385.9,163.3 390.5,165.2C395.2,167.0 399.0,171.4 403.8,171.4C408.6,171.4 414.0,166.8 419.4,165.2C424.9,163.5 431.5,162.7 436.3,161.3C441.1,159.9 443.9,158.3 448.3,157.0C452.8,155.6 457.2,154.1 462.8,153.1C468.4,152.2 476.4,149.9 482.1,151.2C487.7,152.5 492.0,157.9 496.5,160.8C501.0,163.7 507.7,166.1 509.0,168.5C510.3,170.9 507.9,173.5 504.2,175.3C500.5,177.0 492.6,177.7 486.9,179.1C481.2,180.6 473.6,182.1 470.0,183.9C466.4,185.8 465.1,188.3 465.2,190.2C465.3,192.1 471.2,192.5 470.5,195.5C469.8,198.5 465.4,205.0 460.9,208.0C456.4,211.1 449.2,213.4 443.5,213.8C437.8,214.3 431.9,211.7 426.7,210.7C421.4,209.6 417.0,208.8 412.2,207.6C407.4,206.3 402.2,205.1 397.8,203.5C393.3,201.8 388.9,200.5 385.7,197.4C382.5,194.3 381.7,188.0 378.5,184.9C375.3,181.9 369.1,181.3 366.5,179.1C363.8,177.0 363.2,174.3 362.8,172.1C362.4,170.0 361.8,168.1 364.0,166.1Z"/></clipPath>
<g filter="url(#bl1)"><g clip-path="url(#cp7)">
<rect x="352" y="130" width="180" height="100" fill="#c2b2d4"/>
<polygon points="352.0,187.8 383.3,188.3 400.2,184.2 417.0,187.8 422.3,199.8 421.8,226.3 352.0,226.3" fill="#97cfa8"/><polygon points="352.0,187.8 383.3,188.3 400.2,184.2 417.0,187.8 422.3,199.8 421.8,226.3 352.0,226.3" fill="url(#spf)"/>
<polygon points="352.0,130.0 402.6,130.0 403.8,172.1 412.7,180.6 407.9,190.7 392.9,190.7 378.5,184.7 352.0,187.8" fill="#5695c3"/><polygon points="352.0,130.0 402.6,130.0 403.8,172.1 412.7,180.6 407.9,190.7 392.9,190.7 378.5,184.7 352.0,187.8" fill="url(#spf)"/>
<polygon points="417.0,226.3 417.0,193.1 431.5,181.1 448.3,179.4 458.5,187.8 520.6,202.3 520.6,226.3" fill="#ac98c6"/><polygon points="417.0,226.3 417.0,193.1 431.5,181.1 448.3,179.4 458.5,187.8 520.6,202.3 520.6,226.3" fill="url(#spf)"/>
<polygon points="403.8,172.1 414.6,130.0 449.5,130.0 453.2,170.9 448.8,178.7 429.1,183.5 412.2,184.7" fill="#f07f2c"/><polygon points="403.8,172.1 414.6,130.0 449.5,130.0 453.2,170.9 448.8,178.7 429.1,183.5 412.2,184.7" fill="url(#spf)"/>
<polygon points="448.3,130.0 520.6,130.0 520.6,202.3 470.0,183.9 455.6,178.7 449.5,168.5" fill="#d9252f"/><polygon points="448.3,130.0 520.6,130.0 520.6,202.3 470.0,183.9 455.6,178.7 449.5,168.5" fill="url(#spf)"/>
</g></g>
<path d="M482.1,151.7C482.4,150.1 487.1,146.9 488.8,147.3C490.5,147.7 492.5,152.5 492.2,154.1C491.9,155.7 488.6,157.4 486.9,157.0C485.2,156.6 481.7,153.3 482.1,151.7Z" fill="#17b5c6" fill-opacity="0.8" filter="url(#bl)"/>
<path d="M413.4,166.1C412.6,165.7 422.4,158.8 426.7,156.5C430.9,154.2 437.9,152.0 438.7,152.4C439.5,152.8 435.7,156.6 431.5,158.9C427.3,161.2 414.2,166.5 413.4,166.1Z" fill="#7f7f7f" fill-opacity="0.3"/>
<text x="16.6" y="20.2" font-size="10.4" text-anchor="start" fill="#1a1a1a">all genotypes combined</text>
<text x="186.6" y="20.2" font-size="10.4" text-anchor="start" fill="#1a1a1a">Control</text>
<text x="356.6" y="20.2" font-size="10.4" text-anchor="start" fill="#1a1a1a"><tspan font-style="italic">Etv2</tspan> KO</text>
<text x="527.6" y="20.2" font-size="10.4" text-anchor="start" fill="#1a1a1a"><tspan font-style="italic">Ldb1</tspan> KO</text>
<text x="16.6" y="127.8" font-size="10.4" text-anchor="start" fill="#1a1a1a"><tspan font-style="italic">Six4</tspan> KO</text>
<text x="186.6" y="127.8" font-size="10.4" text-anchor="start" fill="#1a1a1a"><tspan font-style="italic">Smad1</tspan> KO</text>
<text x="356.6" y="127.8" font-size="10.4" text-anchor="start" fill="#1a1a1a"><tspan font-style="italic">Zbtb7b</tspan> KO</text>
<text x="12.0" y="117.5" font-size="10.3" text-anchor="middle" fill="#1a1a1a" transform="rotate(-90 12.0 117.5)">UMAP2</text>
<text x="256.3" y="232.3" font-size="10.3" text-anchor="middle" fill="#1a1a1a">UMAP1</text>
<circle cx="526" cy="117.1" r="5.2" fill="#7f7f7f"/>
<text x="534.4" y="120.8" font-size="10.5" text-anchor="start" fill="#1a1a1a">C0: Flk1 neg cells</text>
<circle cx="526" cy="129.7" r="5.2" fill="#1f73b0"/>
<text x="534.4" y="133.4" font-size="10.5" text-anchor="start" fill="#1a1a1a">C1: priMes 1</text>
<circle cx="526" cy="142.3" r="5.2" fill="#2a9c4c"/>
<text x="534.4" y="146.0" font-size="10.5" text-anchor="start" fill="#1a1a1a">C2: priMes 2</text>
<circle cx="526" cy="154.8" r="5.2" fill="#8466aa"/>
<text x="534.4" y="158.5" font-size="10.5" text-anchor="start" fill="#1a1a1a">C3: Foxf1hi mesoderm</text>
<circle cx="526" cy="167.4" r="5.2" fill="#8a574b"/>
<text x="534.4" y="171.1" font-size="10.5" text-anchor="start" fill="#1a1a1a">C4: pre-HEM</text>
<circle cx="526" cy="180.0" r="5.2" fill="#f07f2c"/>
<text x="534.4" y="183.7" font-size="10.5" text-anchor="start" fill="#1a1a1a">C5: HEM 1</text>
<circle cx="526" cy="192.6" r="5.2" fill="#d9252f"/>
<text x="534.4" y="196.3" font-size="10.5" text-anchor="start" fill="#1a1a1a">C6: HEM 2</text>
<circle cx="526" cy="205.2" r="5.2" fill="#b3b83c"/>
<text x="534.4" y="208.9" font-size="10.5" text-anchor="start" fill="#1a1a1a">C7: neuroectoderm</text>
<circle cx="526" cy="217.7" r="5.2" fill="#d97bb2"/>
<text x="534.4" y="221.4" font-size="10.5" text-anchor="start" fill="#1a1a1a">C8: mixed mesoderm</text>
<circle cx="526" cy="230.3" r="5.2" fill="#17b5c6"/>
<text x="534.4" y="234.0" font-size="10.5" text-anchor="start" fill="#1a1a1a">C9: early endothelial progenitors</text>
<text x="-0.9" y="253.7" font-size="10.8" text-anchor="start" fill="#1a1a1a">b</text>
<circle cx="56.1" cy="275.3" r="1.5" fill="#9787c1"/>
<circle cx="56.1" cy="282.0" r="1.2" fill="#9787c1"/>
<circle cx="56.1" cy="288.7" r="0.7" fill="#9787c1"/>
<circle cx="56.1" cy="295.4" r="0.7" fill="#9787c1"/>
<circle cx="56.1" cy="302.1" r="3.0" fill="#b1a5d0"/>
<circle cx="56.1" cy="308.8" r="3.2" fill="#6e65b0"/>
<circle cx="56.1" cy="315.5" r="2.6" fill="#5c5bab"/>
<circle cx="56.1" cy="322.2" r="1.8" fill="#9787c1"/>
<circle cx="56.1" cy="328.9" r="0.5" fill="#b1a5d0"/>
<circle cx="56.1" cy="335.6" r="0.8" fill="#9787c1"/>
<circle cx="56.1" cy="342.3" r="1.8" fill="#b1a5d0"/>
<circle cx="56.1" cy="349.0" r="2.2" fill="#b1a5d0"/>
<circle cx="56.1" cy="355.7" r="0.5" fill="#b1a5d0"/>
<circle cx="56.1" cy="362.4" r="0.7" fill="#9787c1"/>
<circle cx="56.1" cy="369.1" r="0.5" fill="#b1a5d0"/>
<circle cx="56.1" cy="375.8" r="1.2" fill="#9787c1"/>
<circle cx="56.1" cy="382.5" r="1.2" fill="#9787c1"/>
<circle cx="56.1" cy="389.2" r="1.6" fill="#b1a5d0"/>
<circle cx="56.1" cy="395.9" r="3.3" fill="#d0cbe0"/>
<circle cx="56.1" cy="402.6" r="1.6" fill="#d0cbe0"/>
<circle cx="56.1" cy="409.3" r="0.5" fill="#b1a5d0"/>
<circle cx="56.1" cy="416.0" r="1.7" fill="#b1a5d0"/>
<circle cx="56.1" cy="422.7" r="2.0" fill="#6e65b0"/>
<circle cx="56.1" cy="429.4" r="2.0" fill="#b1a5d0"/>
<circle cx="56.1" cy="436.1" r="1.2" fill="#9787c1"/>
<circle cx="56.1" cy="442.8" r="1.0" fill="#9787c1"/>
<circle cx="56.1" cy="449.5" r="0.5" fill="#d0cbe0"/>
<circle cx="56.1" cy="456.2" r="1.3" fill="#9787c1"/>
<circle cx="56.1" cy="462.9" r="1.0" fill="#9787c1"/>
<circle cx="56.1" cy="469.6" r="2.5" fill="#c2b9d8"/>
<circle cx="56.1" cy="476.3" r="2.5" fill="#b1a5d0"/>
<circle cx="56.1" cy="483.0" r="1.0" fill="#b1a5d0"/>
<circle cx="56.1" cy="489.7" r="1.2" fill="#a394c8"/>
<circle cx="56.1" cy="496.4" r="1.8" fill="#c2b9d8"/>
<circle cx="56.1" cy="503.1" r="3.2" fill="#5c5bab"/>
<circle cx="56.1" cy="509.8" r="3.2" fill="#3e56a6"/>
<circle cx="56.1" cy="516.5" r="3.2" fill="#5c5bab"/>
<circle cx="56.1" cy="523.2" r="3.2" fill="#3e56a6"/>
<circle cx="56.1" cy="529.9" r="3.2" fill="#3e56a6"/>
<circle cx="85.3" cy="275.3" r="2.0" fill="#9787c1"/>
<circle cx="85.3" cy="282.0" r="1.2" fill="#9787c1"/>
<circle cx="85.3" cy="288.7" r="1.1" fill="#9787c1"/>
<circle cx="85.3" cy="295.4" r="1.1" fill="#9787c1"/>
<circle cx="85.3" cy="302.1" r="2.8" fill="#b1a5d0"/>
<circle cx="85.3" cy="308.8" r="3.0" fill="#9787c1"/>
<circle cx="85.3" cy="315.5" r="1.2" fill="#9787c1"/>
<circle cx="85.3" cy="322.2" r="2.0" fill="#9787c1"/>
<circle cx="85.3" cy="328.9" r="0.5" fill="#b1a5d0"/>
<circle cx="85.3" cy="335.6" r="0.6" fill="#9787c1"/>
<circle cx="85.3" cy="342.3" r="1.5" fill="#b1a5d0"/>
<circle cx="85.3" cy="349.0" r="2.8" fill="#a394c8"/>
<circle cx="85.3" cy="355.7" r="1.2" fill="#9787c1"/>
<circle cx="85.3" cy="362.4" r="2.8" fill="#8274b8"/>
<circle cx="85.3" cy="369.1" r="1.6" fill="#8274b8"/>
<circle cx="85.3" cy="375.8" r="1.5" fill="#9787c1"/>
<circle cx="85.3" cy="382.5" r="1.2" fill="#8274b8"/>
<circle cx="85.3" cy="389.2" r="1.6" fill="#b1a5d0"/>
<circle cx="85.3" cy="395.9" r="3.3" fill="#b1a5d0"/>
<circle cx="85.3" cy="402.6" r="2.8" fill="#9787c1"/>
<circle cx="85.3" cy="409.3" r="0.5" fill="#b1a5d0"/>
<circle cx="85.3" cy="416.0" r="2.7" fill="#9787c1"/>
<circle cx="85.3" cy="422.7" r="1.2" fill="#9787c1"/>
<circle cx="85.3" cy="429.4" r="2.0" fill="#b1a5d0"/>
<circle cx="85.3" cy="436.1" r="0.7" fill="#b1a5d0"/>
<circle cx="85.3" cy="442.8" r="0.7" fill="#b1a5d0"/>
<circle cx="85.3" cy="449.5" r="0.4" fill="#d0cbe0"/>
<circle cx="85.3" cy="456.2" r="0.8" fill="#b1a5d0"/>
<circle cx="85.3" cy="462.9" r="0.8" fill="#b1a5d0"/>
<circle cx="85.3" cy="469.6" r="3.1" fill="#5c5bab"/>
<circle cx="85.3" cy="476.3" r="3.1" fill="#5c5bab"/>
<circle cx="85.3" cy="483.0" r="2.9" fill="#5c5bab"/>
<circle cx="85.3" cy="489.7" r="3.1" fill="#3e56a6"/>
<circle cx="85.3" cy="496.4" r="3.1" fill="#4d58a8"/>
<circle cx="85.3" cy="503.1" r="1.7" fill="#9787c1"/>
<circle cx="85.3" cy="509.8" r="2.9" fill="#c2b9d8"/>
<circle cx="85.3" cy="516.5" r="2.2" fill="#9787c1"/>
<circle cx="85.3" cy="523.2" r="0.8" fill="#b1a5d0"/>
<circle cx="85.3" cy="529.9" r="2.7" fill="#9787c1"/>
<circle cx="114.5" cy="275.3" r="0.5" fill="#b1a5d0"/>
<circle cx="114.5" cy="282.0" r="0.5" fill="#b1a5d0"/>
<circle cx="114.5" cy="288.7" r="1.1" fill="#9787c1"/>
<circle cx="114.5" cy="295.4" r="1.1" fill="#9787c1"/>
<circle cx="114.5" cy="302.1" r="3.6" fill="#3e56a6"/>
<circle cx="114.5" cy="308.8" r="2.0" fill="#d0cbe0"/>
<circle cx="114.5" cy="315.5" r="0.6" fill="#9787c1"/>
<circle cx="114.5" cy="322.2" r="0.6" fill="#b1a5d0"/>
<circle cx="114.5" cy="328.9" r="2.0" fill="#8274b8"/>
<circle cx="114.5" cy="335.6" r="2.6" fill="#6e65b0"/>
<circle cx="114.5" cy="342.3" r="2.5" fill="#9787c1"/>
<circle cx="114.5" cy="349.0" r="1.2" fill="#b1a5d0"/>
<circle cx="114.5" cy="355.7" r="0.5" fill="#b1a5d0"/>
<circle cx="114.5" cy="362.4" r="0.5" fill="#b1a5d0"/>
<circle cx="114.5" cy="369.1" r="0.5" fill="#b1a5d0"/>
<circle cx="114.5" cy="375.8" r="0.5" fill="#b1a5d0"/>
<circle cx="114.5" cy="382.5" r="0.5" fill="#b1a5d0"/>
<circle cx="114.5" cy="389.2" r="2.1" fill="#a394c8"/>
<circle cx="114.5" cy="395.9" r="3.2" fill="#b1a5d0"/>
<circle cx="114.5" cy="402.6" r="2.0" fill="#b1a5d0"/>
<circle cx="114.5" cy="409.3" r="0.5" fill="#b1a5d0"/>
<circle cx="114.5" cy="416.0" r="1.8" fill="#b1a5d0"/>
<circle cx="114.5" cy="422.7" r="1.8" fill="#8274b8"/>
<circle cx="114.5" cy="429.4" r="2.5" fill="#a394c8"/>
<circle cx="114.5" cy="436.1" r="3.1" fill="#3e56a6"/>
<circle cx="114.5" cy="442.8" r="3.3" fill="#3e56a6"/>
<circle cx="114.5" cy="449.5" r="1.0" fill="#3e56a6"/>
<circle cx="114.5" cy="456.2" r="3.1" fill="#3e56a6"/>
<circle cx="114.5" cy="462.9" r="2.9" fill="#3e56a6"/>
<circle cx="114.5" cy="469.6" r="2.0" fill="#d9d9d9"/>
<circle cx="114.5" cy="476.3" r="1.5" fill="#c2b9d8"/>
<circle cx="114.5" cy="483.0" r="0.6" fill="#b1a5d0"/>
<circle cx="114.5" cy="489.7" r="0.6" fill="#b1a5d0"/>
<circle cx="114.5" cy="496.4" r="1.3" fill="#c2b9d8"/>
<circle cx="114.5" cy="503.1" r="2.0" fill="#9787c1"/>
<circle cx="114.5" cy="509.8" r="2.3" fill="#9787c1"/>
<circle cx="114.5" cy="516.5" r="1.7" fill="#9787c1"/>
<circle cx="114.5" cy="523.2" r="1.7" fill="#8274b8"/>
<circle cx="114.5" cy="529.9" r="2.2" fill="#9787c1"/>
<circle cx="143.7" cy="275.3" r="1.1" fill="#9787c1"/>
<circle cx="143.7" cy="282.0" r="1.1" fill="#9787c1"/>
<circle cx="143.7" cy="288.7" r="1.1" fill="#9787c1"/>
<circle cx="143.7" cy="295.4" r="1.1" fill="#9787c1"/>
<circle cx="143.7" cy="302.1" r="2.5" fill="#b1a5d0"/>
<circle cx="143.7" cy="308.8" r="2.9" fill="#a394c8"/>
<circle cx="143.7" cy="315.5" r="1.1" fill="#9787c1"/>
<circle cx="143.7" cy="322.2" r="2.0" fill="#8274b8"/>
<circle cx="143.7" cy="328.9" r="1.5" fill="#9787c1"/>
<circle cx="143.7" cy="335.6" r="2.0" fill="#9787c1"/>
<circle cx="143.7" cy="342.3" r="2.3" fill="#9787c1"/>
<circle cx="143.7" cy="349.0" r="1.8" fill="#b1a5d0"/>
<circle cx="143.7" cy="355.7" r="0.5" fill="#b1a5d0"/>
<circle cx="143.7" cy="362.4" r="1.1" fill="#9787c1"/>
<circle cx="143.7" cy="369.1" r="0.5" fill="#b1a5d0"/>
<circle cx="143.7" cy="375.8" r="1.1" fill="#9787c1"/>
<circle cx="143.7" cy="382.5" r="0.5" fill="#b1a5d0"/>
<circle cx="143.7" cy="389.2" r="2.2" fill="#8274b8"/>
<circle cx="143.7" cy="395.9" r="3.2" fill="#5c5bab"/>
<circle cx="143.7" cy="402.6" r="2.0" fill="#b1a5d0"/>
<circle cx="143.7" cy="409.3" r="1.5" fill="#8274b8"/>
<circle cx="143.7" cy="416.0" r="2.8" fill="#8274b8"/>
<circle cx="143.7" cy="422.7" r="2.8" fill="#3e56a6"/>
<circle cx="143.7" cy="429.4" r="3.3" fill="#3e56a6"/>
<circle cx="143.7" cy="436.1" r="2.0" fill="#6e65b0"/>
<circle cx="143.7" cy="442.8" r="2.5" fill="#6e65b0"/>
<circle cx="143.7" cy="449.5" r="0.3" fill="#d0cbe0"/>
<circle cx="143.7" cy="456.2" r="2.8" fill="#5c5bab"/>
<circle cx="143.7" cy="462.9" r="1.2" fill="#9787c1"/>
<circle cx="143.7" cy="469.6" r="2.8" fill="#b1a5d0"/>
<circle cx="143.7" cy="476.3" r="3.0" fill="#5c5bab"/>
<circle cx="143.7" cy="483.0" r="1.0" fill="#b1a5d0"/>
<circle cx="143.7" cy="489.7" r="1.2" fill="#b1a5d0"/>
<circle cx="143.7" cy="496.4" r="2.5" fill="#b1a5d0"/>
<circle cx="143.7" cy="503.1" r="2.0" fill="#9787c1"/>
<circle cx="143.7" cy="509.8" r="2.2" fill="#b1a5d0"/>
<circle cx="143.7" cy="516.5" r="1.7" fill="#9787c1"/>
<circle cx="143.7" cy="523.2" r="1.7" fill="#9787c1"/>
<circle cx="143.7" cy="529.9" r="2.1" fill="#b1a5d0"/>
<circle cx="172.9" cy="275.3" r="1.1" fill="#9787c1"/>
<circle cx="172.9" cy="282.0" r="1.1" fill="#b1a5d0"/>
<circle cx="172.9" cy="288.7" r="0.6" fill="#b1a5d0"/>
<circle cx="172.9" cy="295.4" r="0.6" fill="#b1a5d0"/>
<circle cx="172.9" cy="302.1" r="1.8" fill="#b1a5d0"/>
<circle cx="172.9" cy="308.8" r="2.9" fill="#b1a5d0"/>
<circle cx="172.9" cy="315.5" r="0.6" fill="#9787c1"/>
<circle cx="172.9" cy="322.2" r="1.5" fill="#9787c1"/>
<circle cx="172.9" cy="328.9" r="1.1" fill="#8274b8"/>
<circle cx="172.9" cy="335.6" r="1.1" fill="#9787c1"/>
<circle cx="172.9" cy="342.3" r="2.0" fill="#a394c8"/>
<circle cx="172.9" cy="349.0" r="2.9" fill="#8274b8"/>
<circle cx="172.9" cy="355.7" r="1.1" fill="#9787c1"/>
<circle cx="172.9" cy="362.4" r="2.0" fill="#9787c1"/>
<circle cx="172.9" cy="369.1" r="1.1" fill="#9787c1"/>
<circle cx="172.9" cy="375.8" r="1.5" fill="#9787c1"/>
<circle cx="172.9" cy="382.5" r="1.1" fill="#9787c1"/>
<circle cx="172.9" cy="389.2" r="3.0" fill="#5c5bab"/>
<circle cx="172.9" cy="395.9" r="3.3" fill="#3e56a6"/>
<circle cx="172.9" cy="402.6" r="3.1" fill="#3e56a6"/>
<circle cx="172.9" cy="409.3" r="3.1" fill="#3e56a6"/>
<circle cx="172.9" cy="416.0" r="2.2" fill="#b1a5d0"/>
<circle cx="172.9" cy="422.7" r="1.0" fill="#9787c1"/>
<circle cx="172.9" cy="429.4" r="2.8" fill="#6e65b0"/>
<circle cx="172.9" cy="436.1" r="0.6" fill="#b1a5d0"/>
<circle cx="172.9" cy="442.8" r="1.2" fill="#9787c1"/>
<circle cx="172.9" cy="449.5" r="0.3" fill="#d0cbe0"/>
<circle cx="172.9" cy="456.2" r="1.5" fill="#a394c8"/>
<circle cx="172.9" cy="462.9" r="0.6" fill="#b1a5d0"/>
<circle cx="172.9" cy="469.6" r="3.1" fill="#5c5bab"/>
<circle cx="172.9" cy="476.3" r="3.0" fill="#6e65b0"/>
<circle cx="172.9" cy="483.0" r="2.8" fill="#6e65b0"/>
<circle cx="172.9" cy="489.7" r="2.0" fill="#9787c1"/>
<circle cx="172.9" cy="496.4" r="3.1" fill="#5c5bab"/>
<circle cx="172.9" cy="503.1" r="1.8" fill="#9787c1"/>
<circle cx="172.9" cy="509.8" r="2.9" fill="#b1a5d0"/>
<circle cx="172.9" cy="516.5" r="1.2" fill="#9787c1"/>
<circle cx="172.9" cy="523.2" r="1.0" fill="#9787c1"/>
<circle cx="172.9" cy="529.9" r="1.6" fill="#b1a5d0"/>
<circle cx="202.1" cy="275.3" r="1.2" fill="#9787c1"/>
<circle cx="202.1" cy="282.0" r="0.8" fill="#9787c1"/>
<circle cx="202.1" cy="288.7" r="0.8" fill="#9787c1"/>
<circle cx="202.1" cy="295.4" r="0.6" fill="#9787c1"/>
<circle cx="202.1" cy="302.1" r="1.8" fill="#b1a5d0"/>
<circle cx="202.1" cy="308.8" r="1.8" fill="#c2b9d8"/>
<circle cx="202.1" cy="315.5" r="0.3" fill="#b1a5d0"/>
<circle cx="202.1" cy="322.2" r="1.3" fill="#a394c8"/>
<circle cx="202.1" cy="328.9" r="1.0" fill="#9787c1"/>
<circle cx="202.1" cy="335.6" r="1.0" fill="#9787c1"/>
<circle cx="202.1" cy="342.3" r="1.8" fill="#9787c1"/>
<circle cx="202.1" cy="349.0" r="3.3" fill="#3e56a6"/>
<circle cx="202.1" cy="355.7" r="3.1" fill="#3e56a6"/>
<circle cx="202.1" cy="362.4" r="3.3" fill="#3e56a6"/>
<circle cx="202.1" cy="369.1" r="3.1" fill="#3e56a6"/>
<circle cx="202.1" cy="375.8" r="3.1" fill="#3e56a6"/>
<circle cx="202.1" cy="382.5" r="1.8" fill="#3e56a6"/>
<circle cx="202.1" cy="389.2" r="2.0" fill="#b1a5d0"/>
<circle cx="202.1" cy="395.9" r="3.3" fill="#d0cbe0"/>
<circle cx="202.1" cy="402.6" r="3.1" fill="#6e65b0"/>
<circle cx="202.1" cy="409.3" r="1.2" fill="#8274b8"/>
<circle cx="202.1" cy="416.0" r="2.0" fill="#a394c8"/>
<circle cx="202.1" cy="422.7" r="0.4" fill="#b1a5d0"/>
<circle cx="202.1" cy="429.4" r="2.0" fill="#b1a5d0"/>
<circle cx="202.1" cy="436.1" r="0.5" fill="#b1a5d0"/>
<circle cx="202.1" cy="442.8" r="0.5" fill="#b1a5d0"/>
<circle cx="202.1" cy="449.5" r="0.3" fill="#d0cbe0"/>
<circle cx="202.1" cy="456.2" r="0.9" fill="#a394c8"/>
<circle cx="202.1" cy="462.9" r="0.5" fill="#b1a5d0"/>
<circle cx="202.1" cy="469.6" r="2.9" fill="#9787c1"/>
<circle cx="202.1" cy="476.3" r="2.0" fill="#c2b9d8"/>
<circle cx="202.1" cy="483.0" r="2.9" fill="#3e56a6"/>
<circle cx="202.1" cy="489.7" r="2.9" fill="#6e65b0"/>
<circle cx="202.1" cy="496.4" r="3.0" fill="#6e65b0"/>
<circle cx="202.1" cy="503.1" r="1.0" fill="#a394c8"/>
<circle cx="202.1" cy="509.8" r="2.9" fill="#b1a5d0"/>
<circle cx="202.1" cy="516.5" r="1.3" fill="#9787c1"/>
<circle cx="202.1" cy="523.2" r="0.7" fill="#a394c8"/>
<circle cx="202.1" cy="529.9" r="1.2" fill="#a394c8"/>
<circle cx="231.3" cy="275.3" r="0.4" fill="#b1a5d0"/>
<circle cx="231.3" cy="282.0" r="0.5" fill="#b1a5d0"/>
<circle cx="231.3" cy="288.7" r="1.0" fill="#9787c1"/>
<circle cx="231.3" cy="295.4" r="0.7" fill="#9787c1"/>
<circle cx="231.3" cy="302.1" r="2.2" fill="#b1a5d0"/>
<circle cx="231.3" cy="308.8" r="1.8" fill="#d0cbe0"/>
<circle cx="231.3" cy="315.5" r="0.4" fill="#b1a5d0"/>
<circle cx="231.3" cy="322.2" r="0.7" fill="#b1a5d0"/>
<circle cx="231.3" cy="328.9" r="2.9" fill="#3e56a6"/>
<circle cx="231.3" cy="335.6" r="2.9" fill="#3e56a6"/>
<circle cx="231.3" cy="342.3" r="3.1" fill="#3e56a6"/>
<circle cx="231.3" cy="349.0" r="2.5" fill="#9787c1"/>
<circle cx="231.3" cy="355.7" r="1.5" fill="#8274b8"/>
<circle cx="231.3" cy="362.4" r="1.5" fill="#9787c1"/>
<circle cx="231.3" cy="369.1" r="0.8" fill="#9787c1"/>
<circle cx="231.3" cy="375.8" r="1.5" fill="#9787c1"/>
<circle cx="231.3" cy="382.5" r="1.2" fill="#6e65b0"/>
<circle cx="231.3" cy="389.2" r="2.9" fill="#4d58a8"/>
<circle cx="231.3" cy="395.9" r="3.1" fill="#9787c1"/>
<circle cx="231.3" cy="402.6" r="3.1" fill="#5c5bab"/>
<circle cx="231.3" cy="409.3" r="2.0" fill="#5c5bab"/>
<circle cx="231.3" cy="416.0" r="2.2" fill="#9787c1"/>
<circle cx="231.3" cy="422.7" r="0.4" fill="#b1a5d0"/>
<circle cx="231.3" cy="429.4" r="2.9" fill="#6e65b0"/>
<circle cx="231.3" cy="436.1" r="1.5" fill="#8274b8"/>
<circle cx="231.3" cy="442.8" r="2.8" fill="#5c5bab"/>
<circle cx="231.3" cy="449.5" r="0.3" fill="#b1a5d0"/>
<circle cx="231.3" cy="456.2" r="2.8" fill="#5c5bab"/>
<circle cx="231.3" cy="462.9" r="2.0" fill="#5c5bab"/>
<circle cx="231.3" cy="469.6" r="2.6" fill="#d0cbe0"/>
<circle cx="231.3" cy="476.3" r="2.4" fill="#d0cbe0"/>
<circle cx="231.3" cy="483.0" r="1.6" fill="#b1a5d0"/>
<circle cx="231.3" cy="489.7" r="1.2" fill="#b1a5d0"/>
<circle cx="231.3" cy="496.4" r="2.0" fill="#c2b9d8"/>
<circle cx="231.3" cy="503.1" r="1.2" fill="#b1a5d0"/>
<circle cx="231.3" cy="509.8" r="2.9" fill="#6e65b0"/>
<circle cx="231.3" cy="516.5" r="0.9" fill="#b1a5d0"/>
<circle cx="231.3" cy="523.2" r="0.7" fill="#b1a5d0"/>
<circle cx="231.3" cy="529.9" r="1.3" fill="#b1a5d0"/>
<circle cx="260.5" cy="275.3" r="1.8" fill="#9787c1"/>
<circle cx="260.5" cy="282.0" r="1.2" fill="#9787c1"/>
<circle cx="260.5" cy="288.7" r="1.0" fill="#9787c1"/>
<circle cx="260.5" cy="295.4" r="0.8" fill="#9787c1"/>
<circle cx="260.5" cy="302.1" r="2.2" fill="#b1a5d0"/>
<circle cx="260.5" cy="308.8" r="3.1" fill="#5c5bab"/>
<circle cx="260.5" cy="315.5" r="2.6" fill="#5c5bab"/>
<circle cx="260.5" cy="322.2" r="2.6" fill="#3e56a6"/>
<circle cx="260.5" cy="328.9" r="0.3" fill="#b1a5d0"/>
<circle cx="260.5" cy="335.6" r="0.8" fill="#b1a5d0"/>
<circle cx="260.5" cy="342.3" r="1.3" fill="#a394c8"/>
<circle cx="260.5" cy="349.0" r="2.2" fill="#a394c8"/>
<circle cx="260.5" cy="355.7" r="0.5" fill="#b1a5d0"/>
<circle cx="260.5" cy="362.4" r="1.4" fill="#9787c1"/>
<circle cx="260.5" cy="369.1" r="0.6" fill="#b1a5d0"/>
<circle cx="260.5" cy="375.8" r="1.0" fill="#9787c1"/>
<circle cx="260.5" cy="382.5" r="1.1" fill="#8274b8"/>
<circle cx="260.5" cy="389.2" r="1.6" fill="#b1a5d0"/>
<circle cx="260.5" cy="395.9" r="3.3" fill="#d0cbe0"/>
<circle cx="260.5" cy="402.6" r="1.4" fill="#b1a5d0"/>
<circle cx="260.5" cy="409.3" r="0.4" fill="#b1a5d0"/>
<circle cx="260.5" cy="416.0" r="1.5" fill="#b1a5d0"/>
<circle cx="260.5" cy="422.7" r="1.6" fill="#6e65b0"/>
<circle cx="260.5" cy="429.4" r="1.6" fill="#b1a5d0"/>
<circle cx="260.5" cy="436.1" r="1.0" fill="#9787c1"/>
<circle cx="260.5" cy="442.8" r="0.4" fill="#b1a5d0"/>
<circle cx="260.5" cy="449.5" r="0.3" fill="#d0cbe0"/>
<circle cx="260.5" cy="456.2" r="0.9" fill="#a394c8"/>
<circle cx="260.5" cy="462.9" r="0.7" fill="#a394c8"/>
<circle cx="260.5" cy="469.6" r="2.9" fill="#6e65b0"/>
<circle cx="260.5" cy="476.3" r="2.9" fill="#6e65b0"/>
<circle cx="260.5" cy="483.0" r="1.6" fill="#9787c1"/>
<circle cx="260.5" cy="489.7" r="2.0" fill="#6e65b0"/>
<circle cx="260.5" cy="496.4" r="2.8" fill="#8274b8"/>
<circle cx="260.5" cy="503.1" r="2.9" fill="#3e56a6"/>
<circle cx="260.5" cy="509.8" r="2.6" fill="#a394c8"/>
<circle cx="260.5" cy="516.5" r="2.9" fill="#5c5bab"/>
<circle cx="260.5" cy="523.2" r="1.6" fill="#9787c1"/>
<circle cx="260.5" cy="529.9" r="2.9" fill="#5c5bab"/>
<circle cx="289.7" cy="275.3" r="1.3" fill="#9787c1"/>
<circle cx="289.7" cy="282.0" r="1.0" fill="#9787c1"/>
<circle cx="289.7" cy="288.7" r="1.0" fill="#9787c1"/>
<circle cx="289.7" cy="295.4" r="0.8" fill="#9787c1"/>
<circle cx="289.7" cy="302.1" r="3.1" fill="#9787c1"/>
<circle cx="289.7" cy="308.8" r="2.9" fill="#9787c1"/>
<circle cx="289.7" cy="315.5" r="1.4" fill="#9787c1"/>
<circle cx="289.7" cy="322.2" r="1.8" fill="#9787c1"/>
<circle cx="289.7" cy="328.9" r="1.2" fill="#9787c1"/>
<circle cx="289.7" cy="335.6" r="1.5" fill="#9787c1"/>
<circle cx="289.7" cy="342.3" r="1.6" fill="#a394c8"/>
<circle cx="289.7" cy="349.0" r="2.7" fill="#b1a5d0"/>
<circle cx="289.7" cy="355.7" r="0.4" fill="#b1a5d0"/>
<circle cx="289.7" cy="362.4" r="1.4" fill="#9787c1"/>
<circle cx="289.7" cy="369.1" r="0.7" fill="#9787c1"/>
<circle cx="289.7" cy="375.8" r="1.0" fill="#9787c1"/>
<circle cx="289.7" cy="382.5" r="0.6" fill="#9787c1"/>
<circle cx="289.7" cy="389.2" r="1.8" fill="#a394c8"/>
<circle cx="289.7" cy="395.9" r="3.1" fill="#a394c8"/>
<circle cx="289.7" cy="402.6" r="2.9" fill="#c2b9d8"/>
<circle cx="289.7" cy="409.3" r="0.7" fill="#b1a5d0"/>
<circle cx="289.7" cy="416.0" r="2.9" fill="#a394c8"/>
<circle cx="289.7" cy="422.7" r="1.9" fill="#8274b8"/>
<circle cx="289.7" cy="429.4" r="2.8" fill="#9787c1"/>
<circle cx="289.7" cy="436.1" r="2.0" fill="#9787c1"/>
<circle cx="289.7" cy="442.8" r="2.0" fill="#9787c1"/>
<circle cx="289.7" cy="449.5" r="0.7" fill="#b1a5d0"/>
<circle cx="289.7" cy="456.2" r="2.6" fill="#9787c1"/>
<circle cx="289.7" cy="462.9" r="1.8" fill="#9787c1"/>
<circle cx="289.7" cy="469.6" r="2.9" fill="#9787c1"/>
<circle cx="289.7" cy="476.3" r="3.1" fill="#9787c1"/>
<circle cx="289.7" cy="483.0" r="2.6" fill="#9787c1"/>
<circle cx="289.7" cy="489.7" r="2.7" fill="#9787c1"/>
<circle cx="289.7" cy="496.4" r="2.9" fill="#9787c1"/>
<circle cx="289.7" cy="503.1" r="2.5" fill="#9787c1"/>
<circle cx="289.7" cy="509.8" r="2.6" fill="#a394c8"/>
<circle cx="289.7" cy="516.5" r="2.5" fill="#9787c1"/>
<circle cx="289.7" cy="523.2" r="1.9" fill="#9787c1"/>
<circle cx="289.7" cy="529.9" r="2.9" fill="#9787c1"/>
<circle cx="318.9" cy="275.3" r="2.8" fill="#3e56a6"/>
<circle cx="318.9" cy="282.0" r="2.9" fill="#3e56a6"/>
<circle cx="318.9" cy="288.7" r="2.2" fill="#3e56a6"/>
<circle cx="318.9" cy="295.4" r="2.2" fill="#3e56a6"/>
<circle cx="318.9" cy="302.1" r="1.3" fill="#b1a5d0"/>
<circle cx="318.9" cy="308.8" r="1.8" fill="#c2b9d8"/>
<circle cx="318.9" cy="315.5" r="0.4" fill="#b1a5d0"/>
<circle cx="318.9" cy="322.2" r="1.0" fill="#9787c1"/>
<circle cx="318.9" cy="328.9" r="1.0" fill="#9787c1"/>
<circle cx="318.9" cy="335.6" r="1.0" fill="#9787c1"/>
<circle cx="318.9" cy="342.3" r="1.0" fill="#9787c1"/>
<circle cx="318.9" cy="349.0" r="1.0" fill="#9787c1"/>
<circle cx="318.9" cy="355.7" r="0.4" fill="#b1a5d0"/>
<circle cx="318.9" cy="362.4" r="1.2" fill="#9787c1"/>
<circle cx="318.9" cy="369.1" r="1.0" fill="#9787c1"/>
<circle cx="318.9" cy="375.8" r="1.0" fill="#9787c1"/>
<circle cx="318.9" cy="382.5" r="0.5" fill="#b1a5d0"/>
<circle cx="318.9" cy="389.2" r="1.0" fill="#9787c1"/>
<circle cx="318.9" cy="395.9" r="2.9" fill="#9787c1"/>
<circle cx="318.9" cy="402.6" r="1.6" fill="#9787c1"/>
<circle cx="318.9" cy="409.3" r="1.0" fill="#9787c1"/>
<circle cx="318.9" cy="416.0" r="0.5" fill="#b1a5d0"/>
<circle cx="318.9" cy="422.7" r="0.6" fill="#b1a5d0"/>
<circle cx="318.9" cy="429.4" r="1.5" fill="#b1a5d0"/>
<circle cx="318.9" cy="436.1" r="0.5" fill="#b1a5d0"/>
<circle cx="318.9" cy="442.8" r="0.8" fill="#9787c1"/>
<circle cx="318.9" cy="449.5" r="0.3" fill="#d0cbe0"/>
<circle cx="318.9" cy="456.2" r="1.1" fill="#9787c1"/>
<circle cx="318.9" cy="462.9" r="0.5" fill="#b1a5d0"/>
<circle cx="318.9" cy="469.6" r="2.6" fill="#b1a5d0"/>
<circle cx="318.9" cy="476.3" r="2.2" fill="#b1a5d0"/>
<circle cx="318.9" cy="483.0" r="1.4" fill="#9787c1"/>
<circle cx="318.9" cy="489.7" r="1.1" fill="#9787c1"/>
<circle cx="318.9" cy="496.4" r="2.7" fill="#9787c1"/>
<circle cx="318.9" cy="503.1" r="1.0" fill="#9787c1"/>
<circle cx="318.9" cy="509.8" r="2.7" fill="#b1a5d0"/>
<circle cx="318.9" cy="516.5" r="0.9" fill="#9787c1"/>
<circle cx="318.9" cy="523.2" r="1.1" fill="#9787c1"/>
<circle cx="318.9" cy="529.9" r="1.2" fill="#9787c1"/>
<line x1="38.6" y1="270.8" x2="38.6" y2="534.3" stroke="#333" stroke-width="0.9"/>
<line x1="38.2" y1="534.3" x2="336.2" y2="534.3" stroke="#333" stroke-width="0.9"/>
<line x1="36.8" y1="275.3" x2="38.6" y2="275.3" stroke="#333" stroke-width="0.7"/>
<text x="35.8" y="277.4" font-size="5.9" text-anchor="end" fill="#000">Nanog</text>
<line x1="36.8" y1="282.0" x2="38.6" y2="282.0" stroke="#333" stroke-width="0.7"/>
<text x="35.8" y="284.1" font-size="5.9" text-anchor="end" fill="#000">Epcam</text>
<line x1="36.8" y1="288.7" x2="38.6" y2="288.7" stroke="#333" stroke-width="0.7"/>
<text x="35.8" y="290.8" font-size="5.9" text-anchor="end" fill="#000">Mt1</text>
<line x1="36.8" y1="295.40000000000003" x2="38.6" y2="295.40000000000003" stroke="#333" stroke-width="0.7"/>
<text x="35.8" y="297.5" font-size="5.9" text-anchor="end" fill="#000">Mt2</text>
<line x1="36.8" y1="302.1" x2="38.6" y2="302.1" stroke="#333" stroke-width="0.7"/>
<text x="35.8" y="304.2" font-size="5.9" text-anchor="end" fill="#000">Fgf3</text>
<line x1="36.8" y1="308.8" x2="38.6" y2="308.8" stroke="#333" stroke-width="0.7"/>
<text x="35.8" y="310.9" font-size="5.9" text-anchor="end" fill="#000">Msx1</text>
<line x1="36.8" y1="315.5" x2="38.6" y2="315.5" stroke="#333" stroke-width="0.7"/>
<text x="35.8" y="317.6" font-size="5.9" text-anchor="end" fill="#000">Tbx2</text>
<line x1="36.8" y1="322.2" x2="38.6" y2="322.2" stroke="#333" stroke-width="0.7"/>
<text x="35.8" y="324.3" font-size="5.9" text-anchor="end" fill="#000">Dkk1</text>
<line x1="36.8" y1="328.90000000000003" x2="38.6" y2="328.90000000000003" stroke="#333" stroke-width="0.7"/>
<text x="35.8" y="331.0" font-size="5.9" text-anchor="end" fill="#000">Rhoj</text>
<line x1="36.8" y1="335.6" x2="38.6" y2="335.6" stroke="#333" stroke-width="0.7"/>
<text x="35.8" y="337.7" font-size="5.9" text-anchor="end" fill="#000">Rasip1</text>
<line x1="36.8" y1="342.3" x2="38.6" y2="342.3" stroke="#333" stroke-width="0.7"/>
<text x="35.8" y="344.4" font-size="5.9" text-anchor="end" fill="#000">Plxnd1</text>
<line x1="36.8" y1="349.0" x2="38.6" y2="349.0" stroke="#333" stroke-width="0.7"/>
<text x="35.8" y="351.1" font-size="5.9" text-anchor="end" fill="#000">Crabp1</text>
<line x1="36.8" y1="355.70000000000005" x2="38.6" y2="355.70000000000005" stroke="#333" stroke-width="0.7"/>
<text x="35.8" y="357.8" font-size="5.9" text-anchor="end" fill="#000">Foxc1</text>
<line x1="36.8" y1="362.40000000000003" x2="38.6" y2="362.40000000000003" stroke="#333" stroke-width="0.7"/>
<text x="35.8" y="364.5" font-size="5.9" text-anchor="end" fill="#000">Dll3</text>
<line x1="36.8" y1="369.1" x2="38.6" y2="369.1" stroke="#333" stroke-width="0.7"/>
<text x="35.8" y="371.2" font-size="5.9" text-anchor="end" fill="#000">Dll1</text>
<line x1="36.8" y1="375.8" x2="38.6" y2="375.8" stroke="#333" stroke-width="0.7"/>
<text x="35.8" y="377.9" font-size="5.9" text-anchor="end" fill="#000">Nnat</text>
<line x1="36.8" y1="382.5" x2="38.6" y2="382.5" stroke="#333" stroke-width="0.7"/>
<text x="35.8" y="384.6" font-size="5.9" text-anchor="end" fill="#000">Isl1</text>
<line x1="36.8" y1="389.20000000000005" x2="38.6" y2="389.20000000000005" stroke="#333" stroke-width="0.7"/>
<text x="35.8" y="391.3" font-size="5.9" text-anchor="end" fill="#000">Bmp2</text>
<line x1="36.8" y1="395.90000000000003" x2="38.6" y2="395.90000000000003" stroke="#333" stroke-width="0.7"/>
<text x="35.8" y="398.0" font-size="5.9" text-anchor="end" fill="#000">Car2</text>
<line x1="36.8" y1="402.6" x2="38.6" y2="402.6" stroke="#333" stroke-width="0.7"/>
<text x="35.8" y="404.7" font-size="5.9" text-anchor="end" fill="#000">Cyp26a1</text>
<line x1="36.8" y1="409.3" x2="38.6" y2="409.3" stroke="#333" stroke-width="0.7"/>
<text x="35.8" y="411.4" font-size="5.9" text-anchor="end" fill="#000">Tll1</text>
<line x1="36.8" y1="416.0" x2="38.6" y2="416.0" stroke="#333" stroke-width="0.7"/>
<text x="35.8" y="418.1" font-size="5.9" text-anchor="end" fill="#000">T</text>
<line x1="36.8" y1="422.70000000000005" x2="38.6" y2="422.70000000000005" stroke="#333" stroke-width="0.7"/>
<text x="35.8" y="424.8" font-size="5.9" text-anchor="end" fill="#000">Gata3</text>
<line x1="36.8" y1="429.4" x2="38.6" y2="429.4" stroke="#333" stroke-width="0.7"/>
<text x="35.8" y="431.5" font-size="5.9" text-anchor="end" fill="#000">Etv2</text>
<line x1="36.8" y1="436.1" x2="38.6" y2="436.1" stroke="#333" stroke-width="0.7"/>
<text x="35.8" y="438.2" font-size="5.9" text-anchor="end" fill="#000">Gata2</text>
<line x1="36.8" y1="442.8" x2="38.6" y2="442.8" stroke="#333" stroke-width="0.7"/>
<text x="35.8" y="444.9" font-size="5.9" text-anchor="end" fill="#000">Tal1</text>
<line x1="36.8" y1="449.5" x2="38.6" y2="449.5" stroke="#333" stroke-width="0.7"/>
<text x="35.8" y="451.6" font-size="5.9" text-anchor="end" fill="#000">Hbb−bh1</text>
<line x1="36.8" y1="456.20000000000005" x2="38.6" y2="456.20000000000005" stroke="#333" stroke-width="0.7"/>
<text x="35.8" y="458.3" font-size="5.9" text-anchor="end" fill="#000">Lmo2</text>
<line x1="36.8" y1="462.9" x2="38.6" y2="462.9" stroke="#333" stroke-width="0.7"/>
<text x="35.8" y="465.0" font-size="5.9" text-anchor="end" fill="#000">Fli1</text>
<line x1="36.8" y1="469.6" x2="38.6" y2="469.6" stroke="#333" stroke-width="0.7"/>
<text x="35.8" y="471.7" font-size="5.9" text-anchor="end" fill="#000">Eomes</text>
<line x1="36.8" y1="476.3" x2="38.6" y2="476.3" stroke="#333" stroke-width="0.7"/>
<text x="35.8" y="478.4" font-size="5.9" text-anchor="end" fill="#000">Mixl1</text>
<line x1="36.8" y1="483.0" x2="38.6" y2="483.0" stroke="#333" stroke-width="0.7"/>
<text x="35.8" y="485.1" font-size="5.9" text-anchor="end" fill="#000">Lhx1</text>
<line x1="36.8" y1="489.70000000000005" x2="38.6" y2="489.70000000000005" stroke="#333" stroke-width="0.7"/>
<text x="35.8" y="491.8" font-size="5.9" text-anchor="end" fill="#000">Mesp1</text>
<line x1="36.8" y1="496.4" x2="38.6" y2="496.4" stroke="#333" stroke-width="0.7"/>
<text x="35.8" y="498.5" font-size="5.9" text-anchor="end" fill="#000">Tdgf1</text>
<line x1="36.8" y1="503.1" x2="38.6" y2="503.1" stroke="#333" stroke-width="0.7"/>
<text x="35.8" y="505.2" font-size="5.9" text-anchor="end" fill="#000">Bmp4</text>
<line x1="36.8" y1="509.8" x2="38.6" y2="509.8" stroke="#333" stroke-width="0.7"/>
<text x="35.8" y="511.9" font-size="5.9" text-anchor="end" fill="#000">Mest</text>
<line x1="36.8" y1="516.5" x2="38.6" y2="516.5" stroke="#333" stroke-width="0.7"/>
<text x="35.8" y="518.6" font-size="5.9" text-anchor="end" fill="#000">Foxf1</text>
<line x1="36.8" y1="523.2" x2="38.6" y2="523.2" stroke="#333" stroke-width="0.7"/>
<text x="35.8" y="525.3" font-size="5.9" text-anchor="end" fill="#000">Ahnak</text>
<line x1="36.8" y1="529.9" x2="38.6" y2="529.9" stroke="#333" stroke-width="0.7"/>
<text x="35.8" y="532.0" font-size="5.9" text-anchor="end" fill="#000">Hand1</text>
<line x1="56.1" y1="534.3" x2="56.1" y2="536.6" stroke="#333" stroke-width="0.8"/>
<text x="56.1" y="544.4" font-size="9" text-anchor="middle" fill="#222">0</text>
<line x1="85.3" y1="534.3" x2="85.3" y2="536.6" stroke="#333" stroke-width="0.8"/>
<text x="85.3" y="544.4" font-size="9" text-anchor="middle" fill="#222">1</text>
<line x1="114.5" y1="534.3" x2="114.5" y2="536.6" stroke="#333" stroke-width="0.8"/>
<text x="114.5" y="544.4" font-size="9" text-anchor="middle" fill="#222">2</text>
<line x1="143.7" y1="534.3" x2="143.7" y2="536.6" stroke="#333" stroke-width="0.8"/>
<text x="143.7" y="544.4" font-size="9" text-anchor="middle" fill="#222">3</text>
<line x1="172.9" y1="534.3" x2="172.9" y2="536.6" stroke="#333" stroke-width="0.8"/>
<text x="172.9" y="544.4" font-size="9" text-anchor="middle" fill="#222">4</text>
<line x1="202.1" y1="534.3" x2="202.1" y2="536.6" stroke="#333" stroke-width="0.8"/>
<text x="202.1" y="544.4" font-size="9" text-anchor="middle" fill="#222">5</text>
<line x1="231.29999999999998" y1="534.3" x2="231.29999999999998" y2="536.6" stroke="#333" stroke-width="0.8"/>
<text x="231.3" y="544.4" font-size="9" text-anchor="middle" fill="#222">6</text>
<line x1="260.5" y1="534.3" x2="260.5" y2="536.6" stroke="#333" stroke-width="0.8"/>
<text x="260.5" y="544.4" font-size="9" text-anchor="middle" fill="#222">7</text>
<line x1="289.7" y1="534.3" x2="289.7" y2="536.6" stroke="#333" stroke-width="0.8"/>
<text x="289.7" y="544.4" font-size="9" text-anchor="middle" fill="#222">8</text>
<line x1="318.90000000000003" y1="534.3" x2="318.90000000000003" y2="536.6" stroke="#333" stroke-width="0.8"/>
<text x="318.9" y="544.4" font-size="9" text-anchor="middle" fill="#222">9</text>
<text x="191.9" y="555.2" font-size="9.8" text-anchor="middle" fill="#111">Cluster</text>
<text x="8.9" y="397.5" font-size="9.4" text-anchor="middle" fill="#111" transform="rotate(-90 8.9 397.5)">Features</text>
<text x="326.3" y="363.8" font-size="8.6" text-anchor="start" fill="#111">Average Expression</text>
<rect x="343.8" y="370" width="7.4" height="36.2" fill="url(#avg)"/>
<text x="354.5" y="376.9" font-size="9.5" text-anchor="start" fill="#111">2</text>
<text x="354.5" y="386.4" font-size="9.5" text-anchor="start" fill="#111">1</text>
<text x="354.5" y="395.7" font-size="9.5" text-anchor="start" fill="#111">0</text>
<text x="354.5" y="405.0" font-size="9.5" text-anchor="start" fill="#111">−1</text>
<text x="330.7" y="419.4" font-size="8.6" text-anchor="start" fill="#111">Percent Expressed</text>
<circle cx="347" cy="426.4" r="1.3" fill="#111"/>
<text x="354" y="429.9" font-size="9.5" text-anchor="start" fill="#111">25</text>
<circle cx="347" cy="435.6" r="2.0" fill="#111"/>
<text x="354" y="439.1" font-size="9.5" text-anchor="start" fill="#111">50</text>
<circle cx="347" cy="445.3" r="2.7" fill="#111"/>
<text x="354" y="448.8" font-size="9.5" text-anchor="start" fill="#111">75</text>
<text x="403.8" y="251.7" font-size="10.8" text-anchor="start" fill="#1a1a1a">c</text>
<line x1="431.8" y1="265" x2="431.8" y2="341.4" stroke="#b0b0b0" stroke-width="0.9"/>
<line x1="431.8" y1="341.4" x2="549.5" y2="341.4" stroke="#b0b0b0" stroke-width="0.9"/>
<line x1="430.6" y1="268.7" x2="431.8" y2="268.7" stroke="#888" stroke-width="0.5"/>
<text x="429.8" y="270.1" font-size="4.2" text-anchor="end" fill="#555">15</text>
<line x1="430.6" y1="286.8" x2="431.8" y2="286.8" stroke="#888" stroke-width="0.5"/>
<text x="429.8" y="288.2" font-size="4.2" text-anchor="end" fill="#555">10</text>
<line x1="430.6" y1="304.8" x2="431.8" y2="304.8" stroke="#888" stroke-width="0.5"/>
<text x="429.8" y="306.2" font-size="4.2" text-anchor="end" fill="#555">5</text>
<line x1="430.6" y1="322.8" x2="431.8" y2="322.8" stroke="#888" stroke-width="0.5"/>
<text x="429.8" y="324.2" font-size="4.2" text-anchor="end" fill="#555">0</text>
<line x1="430.6" y1="340.8" x2="431.8" y2="340.8" stroke="#888" stroke-width="0.5"/>
<text x="429.8" y="342.2" font-size="4.2" text-anchor="end" fill="#555">−5</text>
<line x1="438.4" y1="299" x2="438.4" y2="327" stroke="#d2d2d2" stroke-width="0.6"/>
<path d="M438.8,326C438.9,330.2 443.7,330.2 443.7,332C443.7,334.1 439.6,335.5 438.4,335.5C437.2,335.5 433.1,334.1 433.1,332C433.1,330.2 437.9,330.2 438.0,326Z" fill="#7f7f7f" stroke="#333" stroke-opacity="0.35" stroke-width="0.4"/>
<line x1="450.0" y1="296" x2="450.0" y2="307" stroke="#b1cee3" stroke-width="0.6"/>
<path d="M450.4,306C450.5,319.3 456.0,319.3 456.0,325C456.0,330.0 451.2,333.3 450.0,333.3C448.8,333.3 444.0,330.0 444.0,325C444.0,319.3 449.5,319.3 449.6,306Z" fill="#1f73b0" stroke="#333" stroke-opacity="0.35" stroke-width="0.4"/>
<line x1="461.6" y1="285.8" x2="461.6" y2="308.6" stroke="#b4dcc0" stroke-width="0.6"/>
<path d="M461.9,307.6C462.1,318.2 467.6,318.2 467.6,322.8C467.6,328.7 462.8,332.7 461.6,332.7C460.4,332.7 455.6,328.7 455.6,322.8C455.6,318.2 461.1,318.2 461.2,307.6Z" fill="#2a9c4c" stroke="#333" stroke-opacity="0.35" stroke-width="0.4"/>
<line x1="473.2" y1="290.5" x2="473.2" y2="312.4" stroke="#d4c9e1" stroke-width="0.6"/>
<path d="M473.6,311.4C473.7,320.7 478.9,320.7 478.9,324.7C478.9,330.4 474.4,334.2 473.2,334.2C472.0,334.2 467.4,330.4 467.4,324.7C467.4,320.7 472.7,320.7 472.8,311.4Z" fill="#8466aa" stroke="#333" stroke-opacity="0.35" stroke-width="0.4"/>
<line x1="484.8" y1="281" x2="484.8" y2="308.6" stroke="#d6c4c0" stroke-width="0.6"/>
<path d="M485.1,307.6C485.3,317.6 490.3,317.6 490.3,321.9C490.3,328.1 486.0,332.3 484.8,332.3C483.6,332.3 479.3,328.1 479.3,321.9C479.3,317.6 484.3,317.6 484.4,307.6Z" fill="#8a574b" stroke="#333" stroke-opacity="0.35" stroke-width="0.4"/>
<line x1="496.4" y1="272.5" x2="496.4" y2="303" stroke="#fad2b5" stroke-width="0.6"/>
<path d="M496.8,302C496.9,316.6 502.4,316.6 502.4,322.8C502.4,329.1 497.6,333.3 496.4,333.3C495.2,333.3 490.4,329.1 490.4,322.8C490.4,316.6 495.9,316.6 496.0,302Z" fill="#f07f2c" stroke="#333" stroke-opacity="0.35" stroke-width="0.4"/>
<line x1="508.0" y1="268.7" x2="508.0" y2="299" stroke="#f2b3b6" stroke-width="0.6"/>
<path d="M508.4,298C508.5,314.7 514.0,314.7 514.0,321.9C514.0,328.7 509.2,333.3 508.0,333.3C506.8,333.3 502.0,328.7 502.0,321.9C502.0,314.7 507.5,314.7 507.6,298Z" fill="#d9252f" stroke="#333" stroke-opacity="0.35" stroke-width="0.4"/>
<line x1="519.6" y1="299" x2="519.6" y2="312.4" stroke="#e4e6bb" stroke-width="0.6"/>
<path d="M520.0,311.4C520.1,319.4 525.1,319.4 525.1,322.8C525.1,329.1 520.8,333.3 519.6,333.3C518.4,333.3 514.1,329.1 514.1,322.8C514.1,319.4 519.1,319.4 519.2,311.4Z" fill="#b3b83c" stroke="#333" stroke-opacity="0.35" stroke-width="0.4"/>
<line x1="531.2" y1="286.8" x2="531.2" y2="306.7" stroke="#f2d1e4" stroke-width="0.6"/>
<path d="M531.5,305.7C531.7,317.0 536.7,317.0 536.7,321.9C536.7,327.6 532.4,331.4 531.2,331.4C530.0,331.4 525.7,327.6 525.7,321.9C525.7,317.0 530.7,317.0 530.8,305.7Z" fill="#d97bb2" stroke="#333" stroke-opacity="0.35" stroke-width="0.4"/>
<line x1="542.8" y1="273.5" x2="542.8" y2="301" stroke="#aee5eb" stroke-width="0.6"/>
<path d="M543.1,300C543.3,313.3 548.8,313.3 548.8,319C548.8,326.4 544.0,331.4 542.8,331.4C541.6,331.4 536.8,326.4 536.8,319C536.8,313.3 542.3,313.3 542.4,300Z" fill="#17b5c6" stroke="#333" stroke-opacity="0.35" stroke-width="0.4"/>
<text x="433.3" y="266.3" font-size="10.2" text-anchor="start" fill="#111"><tspan font-style="italic">KDR</tspan> (Flk1)</text>
<line x1="567.3" y1="265" x2="567.3" y2="341.4" stroke="#b0b0b0" stroke-width="0.9"/>
<line x1="567.3" y1="341.4" x2="685" y2="341.4" stroke="#b0b0b0" stroke-width="0.9"/>
<line x1="566.0999999999999" y1="273.5" x2="567.3" y2="273.5" stroke="#888" stroke-width="0.5"/>
<text x="565.3" y="274.9" font-size="4.2" text-anchor="end" fill="#555">15</text>
<line x1="566.0999999999999" y1="291.5" x2="567.3" y2="291.5" stroke="#888" stroke-width="0.5"/>
<text x="565.3" y="292.9" font-size="4.2" text-anchor="end" fill="#555">10</text>
<line x1="566.0999999999999" y1="309.5" x2="567.3" y2="309.5" stroke="#888" stroke-width="0.5"/>
<text x="565.3" y="310.9" font-size="4.2" text-anchor="end" fill="#555">5</text>
<line x1="566.0999999999999" y1="327.6" x2="567.3" y2="327.6" stroke="#888" stroke-width="0.5"/>
<text x="565.3" y="329.0" font-size="4.2" text-anchor="end" fill="#555">0</text>
<line x1="574.0" y1="299" x2="574.0" y2="331" stroke="#d2d2d2" stroke-width="0.6"/>
<path d="M574.4,330C574.5,331.6 579.3,331.6 579.3,332.3C579.3,333.6 575.2,334.5 574.0,334.5C572.8,334.5 568.7,333.6 568.7,332.3C568.7,331.6 573.5,331.6 573.6,330Z" fill="#7f7f7f" stroke="#333" stroke-opacity="0.35" stroke-width="0.4"/>
<line x1="585.6" y1="270.6" x2="585.6" y2="301" stroke="#b1cee3" stroke-width="0.6"/>
<path d="M586.0,300C586.9,311.9 590.8,321.2 590.8,326.5C590.8,330.6 586.8,333.3 585.6,333.3C584.4,333.3 580.4,330.6 580.4,326.5C580.4,321.2 584.3,311.9 585.2,300Z" fill="#1f73b0" stroke="#333" stroke-opacity="0.35" stroke-width="0.4"/>
<line x1="597.2" y1="285.8" x2="597.2" y2="309" stroke="#b4dcc0" stroke-width="0.6"/>
<path d="M597.6,308C597.7,322.0 602.2,322.0 602.2,328C602.2,331.6 598.4,334 597.2,334C596.0,334 592.2,331.6 592.2,328C592.2,322.0 596.7,322.0 596.9,308Z" fill="#2a9c4c" stroke="#333" stroke-opacity="0.35" stroke-width="0.4"/>
<line x1="608.8" y1="288.6" x2="608.8" y2="323" stroke="#d4c9e1" stroke-width="0.6"/>
<path d="M609.1,322C609.3,329.0 613.3,329.0 613.3,332C613.3,333.5 610.0,334.5 608.8,334.5C607.6,334.5 604.3,333.5 604.3,332C604.3,329.0 608.3,329.0 608.4,322Z" fill="#8466aa" stroke="#333" stroke-opacity="0.35" stroke-width="0.4"/>
<line x1="620.4" y1="296.2" x2="620.4" y2="321" stroke="#d6c4c0" stroke-width="0.6"/>
<path d="M620.8,320C620.9,328.1 624.9,328.1 624.9,331.5C624.9,333.6 621.6,335 620.4,335C619.2,335 615.9,333.6 615.9,331.5C615.9,328.1 619.9,328.1 620.0,320Z" fill="#8a574b" stroke="#333" stroke-opacity="0.35" stroke-width="0.4"/>
<line x1="632.0" y1="298" x2="632.0" y2="327" stroke="#fad2b5" stroke-width="0.6"/>
<path d="M632.4,326C632.5,330.2 636.5,330.2 636.5,332C636.5,333.2 633.2,334 632.0,334C630.8,334 627.5,333.2 627.5,332C627.5,330.2 631.5,330.2 631.6,326Z" fill="#f07f2c" stroke="#333" stroke-opacity="0.35" stroke-width="0.4"/>
<line x1="643.6" y1="300" x2="643.6" y2="329" stroke="#f2b3b6" stroke-width="0.6"/>
<path d="M644.0,328C644.1,331.1 648.1,331.1 648.1,332.5C648.1,333.4 644.8,334 643.6,334C642.4,334 639.1,333.4 639.1,332.5C639.1,331.1 643.1,331.1 643.2,328Z" fill="#d9252f" stroke="#333" stroke-opacity="0.35" stroke-width="0.4"/>
<line x1="655.2" y1="267.8" x2="655.2" y2="304.8" stroke="#e4e6bb" stroke-width="0.6"/>
<path d="M655.6,303.8C656.3,312.4 659.7,319.0 659.7,322.8C659.7,329.6 656.4,334.2 655.2,334.2C654.0,334.2 650.7,329.6 650.7,322.8C650.7,319.0 654.1,312.4 654.9,303.8Z" fill="#b3b83c" stroke="#333" stroke-opacity="0.35" stroke-width="0.4"/>
<line x1="666.8" y1="276.3" x2="666.8" y2="305" stroke="#f2d1e4" stroke-width="0.6"/>
<path d="M667.1,304C667.9,315.2 671.0,324.0 671.0,329C671.0,332.0 668.0,334 666.8,334C665.6,334 662.5,332.0 662.5,329C662.5,324.0 665.7,315.2 666.4,304Z" fill="#d97bb2" stroke="#333" stroke-opacity="0.35" stroke-width="0.4"/>
<line x1="678.4" y1="310.5" x2="678.4" y2="329" stroke="#aee5eb" stroke-width="0.6"/>
<path d="M678.8,328C678.9,331.1 682.9,331.1 682.9,332.5C682.9,333.4 679.6,334 678.4,334C677.2,334 673.9,333.4 673.9,332.5C673.9,331.1 677.9,331.1 678.0,328Z" fill="#17b5c6" stroke="#333" stroke-opacity="0.35" stroke-width="0.4"/>
<text x="572" y="266.3" font-size="10.2" text-anchor="start" fill="#111"><tspan font-style="italic">Pdgfra</tspan></text>
<line x1="431.8" y1="358.5" x2="431.8" y2="434" stroke="#b0b0b0" stroke-width="0.9"/>
<line x1="431.8" y1="434" x2="549.5" y2="434" stroke="#b0b0b0" stroke-width="0.9"/>
<line x1="430.6" y1="376.6" x2="431.8" y2="376.6" stroke="#888" stroke-width="0.5"/>
<text x="429.8" y="378.0" font-size="4.2" text-anchor="end" fill="#555">20</text>
<line x1="430.6" y1="398.4" x2="431.8" y2="398.4" stroke="#888" stroke-width="0.5"/>
<text x="429.8" y="399.8" font-size="4.2" text-anchor="end" fill="#555">10</text>
<line x1="430.6" y1="419.8" x2="431.8" y2="419.8" stroke="#888" stroke-width="0.5"/>
<text x="429.8" y="421.2" font-size="4.2" text-anchor="end" fill="#555">0</text>
<line x1="438.4" y1="401.2" x2="438.4" y2="422" stroke="#d2d2d2" stroke-width="0.6"/>
<path d="M438.8,421C438.9,423.8 443.4,423.8 443.4,425C443.4,426.2 439.6,427 438.4,427C437.2,427 433.4,426.2 433.4,425C433.4,423.8 437.9,423.8 438.0,421Z" fill="#7f7f7f" stroke="#333" stroke-opacity="0.35" stroke-width="0.4"/>
<line x1="450.0" y1="374.7" x2="450.0" y2="404" stroke="#b1cee3" stroke-width="0.6"/>
<path d="M450.4,403C451.3,412.4 455.2,419.8 455.2,424C455.2,425.5 451.2,426.5 450.0,426.5C448.8,426.5 444.8,425.5 444.8,424C444.8,419.8 448.7,412.4 449.6,403Z" fill="#1f73b0" stroke="#333" stroke-opacity="0.35" stroke-width="0.4"/>
<line x1="461.6" y1="370" x2="461.6" y2="392.8" stroke="#b4dcc0" stroke-width="0.6"/>
<path d="M461.9,391.8C462.8,404.5 466.6,414.4 466.6,420C466.6,424.4 462.8,427.4 461.6,427.4C460.4,427.4 456.6,424.4 456.6,420C456.6,414.4 460.3,404.5 461.2,391.8Z" fill="#2a9c4c" stroke="#333" stroke-opacity="0.35" stroke-width="0.4"/>
<line x1="473.2" y1="361.4" x2="473.2" y2="383.3" stroke="#d4c9e1" stroke-width="0.6"/>
<path d="M473.6,382.3C474.5,397.6 478.4,409.6 478.4,416.4C478.4,422.7 474.4,426.9 473.2,426.9C472.0,426.9 467.9,422.7 467.9,416.4C467.9,409.6 471.9,397.6 472.8,382.3Z" fill="#8466aa" stroke="#333" stroke-opacity="0.35" stroke-width="0.4"/>
<line x1="484.8" y1="391.8" x2="484.8" y2="409.8" stroke="#d6c4c0" stroke-width="0.6"/>
<path d="M485.1,408.8C485.3,418.1 489.8,418.1 489.8,422.1C489.8,424.4 486.0,425.9 484.8,425.9C483.6,425.9 479.8,424.4 479.8,422.1C479.8,418.1 484.3,418.1 484.4,408.8Z" fill="#8a574b" stroke="#333" stroke-opacity="0.35" stroke-width="0.4"/>
<line x1="496.4" y1="389.9" x2="496.4" y2="420.5" stroke="#fad2b5" stroke-width="0.6"/>
<path d="M496.8,419.5C496.9,423.4 500.9,423.4 500.9,425C500.9,426.2 497.6,427 496.4,427C495.2,427 491.9,426.2 491.9,425C491.9,423.4 495.9,423.4 496.0,419.5Z" fill="#f07f2c" stroke="#333" stroke-opacity="0.35" stroke-width="0.4"/>
<line x1="508.0" y1="389" x2="508.0" y2="421.5" stroke="#f2b3b6" stroke-width="0.6"/>
<path d="M508.4,420.5C508.5,423.6 513.0,423.6 513.0,425C513.0,426.2 509.2,427 508.0,427C506.8,427 503.0,426.2 503.0,425C503.0,423.6 507.5,423.6 507.6,420.5Z" fill="#d9252f" stroke="#333" stroke-opacity="0.35" stroke-width="0.4"/>
<line x1="519.6" y1="405" x2="519.6" y2="419.5" stroke="#e4e6bb" stroke-width="0.6"/>
<path d="M520.0,418.5C520.1,423.1 524.1,423.1 524.1,425C524.1,426.2 520.8,427 519.6,427C518.4,427 515.1,426.2 515.1,425C515.1,423.1 519.1,423.1 519.2,418.5Z" fill="#b3b83c" stroke="#333" stroke-opacity="0.35" stroke-width="0.4"/>
<line x1="531.2" y1="395.5" x2="531.2" y2="423" stroke="#f2d1e4" stroke-width="0.6"/>
<path d="M531.5,422C531.7,424.1 535.7,424.1 535.7,425C535.7,426.2 532.4,427 531.2,427C530.0,427 526.7,426.2 526.7,425C526.7,424.1 530.7,424.1 530.8,422Z" fill="#d97bb2" stroke="#333" stroke-opacity="0.35" stroke-width="0.4"/>
<line x1="542.8" y1="406" x2="542.8" y2="424" stroke="#aee5eb" stroke-width="0.6"/>
<path d="M543.1,423C543.3,424.4 547.8,424.4 547.8,425C547.8,426.2 544.0,427 542.8,427C541.6,427 537.8,426.2 537.8,425C537.8,424.4 542.3,424.4 542.4,423Z" fill="#17b5c6" stroke="#333" stroke-opacity="0.35" stroke-width="0.4"/>
<text x="433.3" y="359.3" font-size="10.2" text-anchor="start" fill="#111"><tspan font-style="italic">Foxf1</tspan></text>
<line x1="568.3" y1="358.5" x2="568.3" y2="434" stroke="#b0b0b0" stroke-width="0.9"/>
<line x1="568.3" y1="434" x2="685" y2="434" stroke="#b0b0b0" stroke-width="0.9"/>
<line x1="567.0999999999999" y1="362.3" x2="568.3" y2="362.3" stroke="#888" stroke-width="0.5"/>
<text x="566.3" y="363.7" font-size="4.2" text-anchor="end" fill="#555">50</text>
<line x1="567.0999999999999" y1="374.1" x2="568.3" y2="374.1" stroke="#888" stroke-width="0.5"/>
<text x="566.3" y="375.5" font-size="4.2" text-anchor="end" fill="#555">40</text>
<line x1="567.0999999999999" y1="386" x2="568.3" y2="386" stroke="#888" stroke-width="0.5"/>
<text x="566.3" y="387.4" font-size="4.2" text-anchor="end" fill="#555">30</text>
<line x1="567.0999999999999" y1="397.8" x2="568.3" y2="397.8" stroke="#888" stroke-width="0.5"/>
<text x="566.3" y="399.2" font-size="4.2" text-anchor="end" fill="#555">20</text>
<line x1="567.0999999999999" y1="409.8" x2="568.3" y2="409.8" stroke="#888" stroke-width="0.5"/>
<text x="566.3" y="411.2" font-size="4.2" text-anchor="end" fill="#555">10</text>
<line x1="567.0999999999999" y1="421.7" x2="568.3" y2="421.7" stroke="#888" stroke-width="0.5"/>
<text x="566.3" y="423.1" font-size="4.2" text-anchor="end" fill="#555">0</text>
<line x1="567.0999999999999" y1="433.5" x2="568.3" y2="433.5" stroke="#888" stroke-width="0.5"/>
<text x="566.3" y="434.9" font-size="4.2" text-anchor="end" fill="#555">−10</text>
<line x1="574.5" y1="383.2" x2="574.5" y2="423" stroke="#d2d2d2" stroke-width="0.6"/>
<path d="M574.9,422C575.0,424.4 579.5,424.4 579.5,425.5C579.5,426.4 575.7,427 574.5,427C573.3,427 569.5,426.4 569.5,425.5C569.5,424.4 574.0,424.4 574.1,422Z" fill="#7f7f7f" stroke="#333" stroke-opacity="0.35" stroke-width="0.4"/>
<line x1="586.1" y1="393.6" x2="586.1" y2="423" stroke="#b1cee3" stroke-width="0.6"/>
<path d="M586.5,422C586.6,424.1 590.6,424.1 590.6,425C590.6,426.2 587.3,427 586.1,427C584.9,427 581.6,426.2 581.6,425C581.6,424.1 585.6,424.1 585.8,422Z" fill="#1f73b0" stroke="#333" stroke-opacity="0.35" stroke-width="0.4"/>
<line x1="597.7" y1="384.2" x2="597.7" y2="422" stroke="#b4dcc0" stroke-width="0.6"/>
<path d="M598.1,421C598.2,423.8 602.7,423.8 602.7,425C602.7,426.2 598.9,427 597.7,427C596.5,427 592.7,426.2 592.7,425C592.7,423.8 597.2,423.8 597.4,421Z" fill="#2a9c4c" stroke="#333" stroke-opacity="0.35" stroke-width="0.4"/>
<line x1="609.3" y1="372.8" x2="609.3" y2="423" stroke="#d4c9e1" stroke-width="0.6"/>
<path d="M609.6,422C609.8,424.1 614.3,424.1 614.3,425C614.3,426.2 610.5,427 609.3,427C608.1,427 604.3,426.2 604.3,425C604.3,424.1 608.8,424.1 608.9,422Z" fill="#8466aa" stroke="#333" stroke-opacity="0.35" stroke-width="0.4"/>
<line x1="620.9" y1="397.4" x2="620.9" y2="411.7" stroke="#d6c4c0" stroke-width="0.6"/>
<path d="M621.2,410.7C621.4,419.3 625.9,419.3 625.9,423C625.9,425.3 622.1,426.9 620.9,426.9C619.7,426.9 615.9,425.3 615.9,423C615.9,419.3 620.4,419.3 620.5,410.7Z" fill="#8a574b" stroke="#333" stroke-opacity="0.35" stroke-width="0.4"/>
<line x1="632.5" y1="361.4" x2="632.5" y2="383.3" stroke="#fad2b5" stroke-width="0.6"/>
<path d="M632.9,382.3C633.8,399.4 637.8,412.6 637.8,420.2C637.8,424.8 633.7,427.8 632.5,427.8C631.3,427.8 627.2,424.8 627.2,420.2C627.2,412.6 631.2,399.4 632.1,382.3Z" fill="#f07f2c" stroke="#333" stroke-opacity="0.35" stroke-width="0.4"/>
<line x1="644.1" y1="373.7" x2="644.1" y2="415.5" stroke="#f2b3b6" stroke-width="0.6"/>
<path d="M644.5,414.5C644.6,421.9 649.1,421.9 649.1,425C649.1,426.2 645.3,427 644.1,427C642.9,427 639.1,426.2 639.1,425C639.1,421.9 643.6,421.9 643.8,414.5Z" fill="#d9252f" stroke="#333" stroke-opacity="0.35" stroke-width="0.4"/>
<line x1="655.7" y1="396.5" x2="655.7" y2="419.3" stroke="#e4e6bb" stroke-width="0.6"/>
<path d="M656.1,418.3C656.2,423.0 660.2,423.0 660.2,425C660.2,426.2 656.9,427 655.7,427C654.5,427 651.2,426.2 651.2,425C651.2,423.0 655.2,423.0 655.4,418.3Z" fill="#b3b83c" stroke="#333" stroke-opacity="0.35" stroke-width="0.4"/>
<line x1="667.3" y1="363.3" x2="667.3" y2="398.4" stroke="#f2d1e4" stroke-width="0.6"/>
<path d="M667.6,397.4C668.6,408.9 672.5,417.9 672.5,423C672.5,425.3 668.5,426.9 667.3,426.9C666.1,426.9 662.0,425.3 662.0,423C662.0,417.9 666.0,408.9 666.9,397.4Z" fill="#d97bb2" stroke="#333" stroke-opacity="0.35" stroke-width="0.4"/>
<line x1="678.9" y1="362.3" x2="678.9" y2="390.9" stroke="#aee5eb" stroke-width="0.6"/>
<path d="M679.2,389.9C680.2,404.8 684.1,416.4 684.1,423C684.1,425.9 680.1,427.8 678.9,427.8C677.7,427.8 673.6,425.9 673.6,423C673.6,416.4 677.6,404.8 678.5,389.9Z" fill="#17b5c6" stroke="#333" stroke-opacity="0.35" stroke-width="0.4"/>
<text x="572" y="359.3" font-size="10.2" text-anchor="start" fill="#111"><tspan font-style="italic">Etv2</tspan></text>
<line x1="431.6" y1="452" x2="431.6" y2="527.2" stroke="#b0b0b0" stroke-width="0.9"/>
<line x1="431.6" y1="527.2" x2="549.1" y2="527.2" stroke="#b0b0b0" stroke-width="0.9"/>
<line x1="430.40000000000003" y1="462.4" x2="431.6" y2="462.4" stroke="#888" stroke-width="0.5"/>
<text x="429.6" y="463.8" font-size="4.2" text-anchor="end" fill="#555">20</text>
<line x1="430.40000000000003" y1="476.1" x2="431.6" y2="476.1" stroke="#888" stroke-width="0.5"/>
<text x="429.6" y="477.5" font-size="4.2" text-anchor="end" fill="#555">15</text>
<line x1="430.40000000000003" y1="489.4" x2="431.6" y2="489.4" stroke="#888" stroke-width="0.5"/>
<text x="429.6" y="490.8" font-size="4.2" text-anchor="end" fill="#555">10</text>
<line x1="430.40000000000003" y1="503.1" x2="431.6" y2="503.1" stroke="#888" stroke-width="0.5"/>
<text x="429.6" y="504.5" font-size="4.2" text-anchor="end" fill="#555">5</text>
<line x1="430.40000000000003" y1="516.6" x2="431.6" y2="516.6" stroke="#888" stroke-width="0.5"/>
<text x="429.6" y="518.0" font-size="4.2" text-anchor="end" fill="#555">0</text>
<line x1="438.8" y1="499" x2="438.8" y2="515" stroke="#d2d2d2" stroke-width="0.6"/>
<path d="M439.2,514C439.3,517.0 444.3,517.0 444.3,518.3C444.3,519.3 440.0,520 438.8,520C437.6,520 433.3,519.3 433.3,518.3C433.3,517.0 438.3,517.0 438.4,514Z" fill="#7f7f7f" stroke="#333" stroke-opacity="0.35" stroke-width="0.4"/>
<line x1="450.4" y1="497.8" x2="450.4" y2="515" stroke="#b1cee3" stroke-width="0.6"/>
<path d="M450.8,514C450.9,517.0 455.9,517.0 455.9,518.3C455.9,519.3 451.6,520 450.4,520C449.2,520 444.9,519.3 444.9,518.3C444.9,517.0 449.9,517.0 450.1,514Z" fill="#1f73b0" stroke="#333" stroke-opacity="0.35" stroke-width="0.4"/>
<line x1="462.0" y1="479.7" x2="462.0" y2="515" stroke="#b4dcc0" stroke-width="0.6"/>
<path d="M462.4,514C462.5,517.0 467.5,517.0 467.5,518.3C467.5,519.3 463.2,520 462.0,520C460.8,520 456.5,519.3 456.5,518.3C456.5,517.0 461.5,517.0 461.6,514Z" fill="#2a9c4c" stroke="#333" stroke-opacity="0.35" stroke-width="0.4"/>
<line x1="473.6" y1="478.5" x2="473.6" y2="515" stroke="#d4c9e1" stroke-width="0.6"/>
<path d="M474.0,514C474.1,517.0 479.1,517.0 479.1,518.3C479.1,519.3 474.8,520 473.6,520C472.4,520 468.1,519.3 468.1,518.3C468.1,517.0 473.1,517.0 473.2,514Z" fill="#8466aa" stroke="#333" stroke-opacity="0.35" stroke-width="0.4"/>
<line x1="485.2" y1="485.8" x2="485.2" y2="512" stroke="#d6c4c0" stroke-width="0.6"/>
<path d="M485.6,511C485.7,515.9 490.7,515.9 490.7,518C490.7,519.5 486.4,520.5 485.2,520.5C484.0,520.5 479.7,519.5 479.7,518C479.7,515.9 484.7,515.9 484.8,511Z" fill="#8a574b" stroke="#333" stroke-opacity="0.35" stroke-width="0.4"/>
<line x1="496.8" y1="499" x2="496.8" y2="516" stroke="#fad2b5" stroke-width="0.6"/>
<path d="M497.2,515C497.3,517.3 501.8,517.3 501.8,518.3C501.8,519.3 498.0,520 496.8,520C495.6,520 491.8,519.3 491.8,518.3C491.8,517.3 496.3,517.3 496.4,515Z" fill="#f07f2c" stroke="#333" stroke-opacity="0.35" stroke-width="0.4"/>
<line x1="508.4" y1="454.5" x2="508.4" y2="489.2" stroke="#f2b3b6" stroke-width="0.6"/>
<path d="M508.8,488.2C509.8,501.0 513.9,510.9 513.9,516.6C513.9,519.5 509.6,521.4 508.4,521.4C507.2,521.4 502.9,519.5 502.9,516.6C502.9,510.9 507.0,501.0 508.0,488.2Z" fill="#d9252f" stroke="#333" stroke-opacity="0.35" stroke-width="0.4"/>
<line x1="520.0" y1="510" x2="520.0" y2="516" stroke="#e4e6bb" stroke-width="0.6"/>
<path d="M520.4,515C520.5,517.3 525.0,517.3 525.0,518.3C525.0,519.3 521.2,520 520.0,520C518.8,520 515.0,519.3 515.0,518.3C515.0,517.3 519.5,517.3 519.6,515Z" fill="#b3b83c" stroke="#333" stroke-opacity="0.35" stroke-width="0.4"/>
<line x1="531.6" y1="493" x2="531.6" y2="516" stroke="#f2d1e4" stroke-width="0.6"/>
<path d="M532.0,515C532.1,517.3 537.1,517.3 537.1,518.3C537.1,519.3 532.8,520 531.6,520C530.4,520 526.1,519.3 526.1,518.3C526.1,517.3 531.1,517.3 531.2,515Z" fill="#d97bb2" stroke="#333" stroke-opacity="0.35" stroke-width="0.4"/>
<line x1="543.2" y1="484.6" x2="543.2" y2="514" stroke="#aee5eb" stroke-width="0.6"/>
<path d="M543.6,513C543.7,516.7 548.7,516.7 548.7,518.3C548.7,519.6 544.4,520.5 543.2,520.5C542.0,520.5 537.7,519.6 537.7,518.3C537.7,516.7 542.7,516.7 542.9,513Z" fill="#17b5c6" stroke="#333" stroke-opacity="0.35" stroke-width="0.4"/>
<text x="433.5" y="453.4" font-size="10.2" text-anchor="start" fill="#111"><tspan font-style="italic">Runx1</tspan></text>
<line x1="574.5" y1="434" x2="574.5" y2="435.5" stroke="#888" stroke-width="0.5"/>
<text x="574.5" y="440.3" font-size="5" text-anchor="middle" fill="#444">0</text>
<line x1="438.8" y1="527.2" x2="438.8" y2="528.7" stroke="#888" stroke-width="0.5"/>
<text x="438.8" y="533" font-size="5" text-anchor="middle" fill="#444">0</text>
<line x1="586.1" y1="434" x2="586.1" y2="435.5" stroke="#888" stroke-width="0.5"/>
<text x="586.1" y="440.3" font-size="5" text-anchor="middle" fill="#444">1</text>
<line x1="450.33" y1="527.2" x2="450.33" y2="528.7" stroke="#888" stroke-width="0.5"/>
<text x="450.3" y="533" font-size="5" text-anchor="middle" fill="#444">1</text>
<line x1="597.7" y1="434" x2="597.7" y2="435.5" stroke="#888" stroke-width="0.5"/>
<text x="597.7" y="440.3" font-size="5" text-anchor="middle" fill="#444">2</text>
<line x1="461.86" y1="527.2" x2="461.86" y2="528.7" stroke="#888" stroke-width="0.5"/>
<text x="461.9" y="533" font-size="5" text-anchor="middle" fill="#444">2</text>
<line x1="609.3" y1="434" x2="609.3" y2="435.5" stroke="#888" stroke-width="0.5"/>
<text x="609.3" y="440.3" font-size="5" text-anchor="middle" fill="#444">3</text>
<line x1="473.39" y1="527.2" x2="473.39" y2="528.7" stroke="#888" stroke-width="0.5"/>
<text x="473.4" y="533" font-size="5" text-anchor="middle" fill="#444">3</text>
<line x1="620.9" y1="434" x2="620.9" y2="435.5" stroke="#888" stroke-width="0.5"/>
<text x="620.9" y="440.3" font-size="5" text-anchor="middle" fill="#444">4</text>
<line x1="484.92" y1="527.2" x2="484.92" y2="528.7" stroke="#888" stroke-width="0.5"/>
<text x="484.9" y="533" font-size="5" text-anchor="middle" fill="#444">4</text>
<line x1="632.5" y1="434" x2="632.5" y2="435.5" stroke="#888" stroke-width="0.5"/>
<text x="632.5" y="440.3" font-size="5" text-anchor="middle" fill="#444">5</text>
<line x1="496.45" y1="527.2" x2="496.45" y2="528.7" stroke="#888" stroke-width="0.5"/>
<text x="496.4" y="533" font-size="5" text-anchor="middle" fill="#444">5</text>
<line x1="644.1" y1="434" x2="644.1" y2="435.5" stroke="#888" stroke-width="0.5"/>
<text x="644.1" y="440.3" font-size="5" text-anchor="middle" fill="#444">6</text>
<line x1="507.98" y1="527.2" x2="507.98" y2="528.7" stroke="#888" stroke-width="0.5"/>
<text x="508.0" y="533" font-size="5" text-anchor="middle" fill="#444">6</text>
<line x1="655.7" y1="434" x2="655.7" y2="435.5" stroke="#888" stroke-width="0.5"/>
<text x="655.7" y="440.3" font-size="5" text-anchor="middle" fill="#444">7</text>
<line x1="519.51" y1="527.2" x2="519.51" y2="528.7" stroke="#888" stroke-width="0.5"/>
<text x="519.5" y="533" font-size="5" text-anchor="middle" fill="#444">7</text>
<line x1="667.3" y1="434" x2="667.3" y2="435.5" stroke="#888" stroke-width="0.5"/>
<text x="667.3" y="440.3" font-size="5" text-anchor="middle" fill="#444">8</text>
<line x1="531.04" y1="527.2" x2="531.04" y2="528.7" stroke="#888" stroke-width="0.5"/>
<text x="531.0" y="533" font-size="5" text-anchor="middle" fill="#444">8</text>
<line x1="678.9" y1="434" x2="678.9" y2="435.5" stroke="#888" stroke-width="0.5"/>
<text x="678.9" y="440.3" font-size="5" text-anchor="middle" fill="#444">9</text>
<line x1="542.57" y1="527.2" x2="542.57" y2="528.7" stroke="#888" stroke-width="0.5"/>
<text x="542.6" y="533" font-size="5" text-anchor="middle" fill="#444">9</text>
<text x="622.3" y="453.4" font-size="10.4" text-anchor="middle" fill="#111">Cluster</text>
<text x="487.1" y="547.2" font-size="10.4" text-anchor="middle" fill="#111">Cluster</text>
<text x="419.8" y="389.5" font-size="10.4" text-anchor="middle" fill="#111" transform="rotate(-90 419.8 389.5)">Expression</text>
<text x="-0.9" y="578.7" font-size="10.8" text-anchor="start" fill="#1a1a1a">d</text>
<rect x="31.2" y="590.2" width="30.1" height="2.4" fill="#7f7f7f"/>
<rect x="31.2" y="592.6" width="30.1" height="20.4" fill="#1c6fae"/>
<rect x="31.2" y="613.1" width="30.1" height="18.2" fill="#249a4e"/>
<rect x="31.2" y="631.2" width="30.1" height="63.2" fill="#8166a3"/>
<rect x="31.2" y="694.4" width="30.1" height="3.4" fill="#8a5247"/>
<rect x="31.2" y="697.8" width="30.1" height="9.9" fill="#ec7f32"/>
<rect x="31.2" y="707.7" width="30.1" height="66.5" fill="#d8232f"/>
<rect x="31.2" y="774.2" width="30.1" height="3.4" fill="#14b2c2"/>
<rect x="63.8" y="590.2" width="30.1" height="1.1" fill="#7f7f7f"/>
<rect x="63.8" y="591.3" width="30.1" height="98.9" fill="#1c6fae"/>
<rect x="63.8" y="690.3" width="30.1" height="15.7" fill="#249a4e"/>
<rect x="63.8" y="706.0" width="30.1" height="68.2" fill="#8166a3"/>
<rect x="63.8" y="774.2" width="30.1" height="1.7" fill="#8a5247"/>
<rect x="63.8" y="775.9" width="30.1" height="1.7" fill="#ec7f32"/>
<rect x="97.0" y="590.2" width="30.1" height="2.4" fill="#7f7f7f"/>
<rect x="97.0" y="592.6" width="30.1" height="45.5" fill="#1c6fae"/>
<rect x="97.0" y="638.2" width="30.1" height="17.2" fill="#249a4e"/>
<rect x="97.0" y="655.4" width="30.1" height="56.4" fill="#8166a3"/>
<rect x="97.0" y="711.8" width="30.1" height="3.0" fill="#8a5247"/>
<rect x="97.0" y="714.8" width="30.1" height="61.1" fill="#ec7f32"/>
<rect x="97.0" y="775.9" width="30.1" height="1.7" fill="#d8232f"/>
<rect x="130.2" y="590.2" width="30.1" height="3.4" fill="#7f7f7f"/>
<rect x="130.2" y="593.6" width="30.1" height="63.9" fill="#1c6fae"/>
<rect x="130.2" y="657.5" width="30.1" height="15.7" fill="#249a4e"/>
<rect x="130.2" y="673.2" width="30.1" height="55.7" fill="#8166a3"/>
<rect x="130.2" y="728.9" width="30.1" height="4.7" fill="#8a5247"/>
<rect x="130.2" y="733.6" width="30.1" height="17.8" fill="#ec7f32"/>
<rect x="130.2" y="751.4" width="30.1" height="24.2" fill="#d8232f"/>
<rect x="130.2" y="775.5" width="30.1" height="2.1" fill="#14b2c2"/>
<rect x="163.6" y="590.2" width="30.1" height="6.7" fill="#7f7f7f"/>
<rect x="163.6" y="596.9" width="30.1" height="10.1" fill="#1c6fae"/>
<rect x="163.6" y="607.1" width="30.1" height="2.6" fill="#249a4e"/>
<rect x="163.6" y="609.7" width="30.1" height="1.3" fill="#8a5247"/>
<rect x="163.6" y="611.0" width="30.1" height="1.3" fill="#d8232f"/>
<rect x="163.6" y="612.3" width="30.1" height="18.9" fill="#b0b43c"/>
<rect x="163.6" y="631.2" width="30.1" height="128.9" fill="#d578a8"/>
<rect x="163.6" y="760.2" width="30.1" height="17.4" fill="#14b2c2"/>
<rect x="197.0" y="590.2" width="30.1" height="3.4" fill="#7f7f7f"/>
<rect x="197.0" y="593.6" width="30.1" height="33.5" fill="#1c6fae"/>
<rect x="197.0" y="627.1" width="30.1" height="9.0" fill="#249a4e"/>
<rect x="197.0" y="636.1" width="30.1" height="27.0" fill="#8166a3"/>
<rect x="197.0" y="663.1" width="30.1" height="12.0" fill="#8a5247"/>
<rect x="197.0" y="675.1" width="30.1" height="39.4" fill="#ec7f32"/>
<rect x="197.0" y="714.4" width="30.1" height="59.4" fill="#d8232f"/>
<rect x="197.0" y="773.9" width="30.1" height="3.7" fill="#14b2c2"/>
<line x1="26.2" y1="590.2" x2="29.2" y2="590.2" stroke="#666" stroke-width="0.7"/>
<text x="25.6" y="592.9" font-size="7.7" text-anchor="end" fill="#555">100</text>
<line x1="26.2" y1="637.05" x2="29.2" y2="637.05" stroke="#666" stroke-width="0.7"/>
<text x="25.6" y="639.8" font-size="7.7" text-anchor="end" fill="#555">75</text>
<line x1="26.2" y1="683.9" x2="29.2" y2="683.9" stroke="#666" stroke-width="0.7"/>
<text x="25.6" y="686.6" font-size="7.7" text-anchor="end" fill="#555">50</text>
<line x1="26.2" y1="730.75" x2="29.2" y2="730.75" stroke="#666" stroke-width="0.7"/>
<text x="25.6" y="733.5" font-size="7.7" text-anchor="end" fill="#555">25</text>
<line x1="26.2" y1="777.6" x2="29.2" y2="777.6" stroke="#666" stroke-width="0.7"/>
<text x="25.6" y="780.3" font-size="7.7" text-anchor="end" fill="#555">0</text>
<text x="10.8" y="681" font-size="11.7" text-anchor="middle" fill="#111" transform="rotate(-90 10.8 681)">Proportion [%]</text>
<text x="51.4" y="786.0" font-size="11.5" text-anchor="end" fill="#111" transform="rotate(-47 51.4 786.0)">Ctrl</text>
<text x="84.0" y="786.0" font-size="11.5" text-anchor="end" fill="#111" transform="rotate(-47 84.0 786.0)"><tspan font-style="italic">Etv2</tspan> KO</text>
<text x="117.2" y="786.0" font-size="11.5" text-anchor="end" fill="#111" transform="rotate(-47 117.2 786.0)"><tspan font-style="italic">Ldb1</tspan> KO</text>
<text x="150.4" y="786.0" font-size="11.5" text-anchor="end" fill="#111" transform="rotate(-47 150.4 786.0)"><tspan font-style="italic">Six4</tspan> KO</text>
<text x="183.8" y="786.0" font-size="11.5" text-anchor="end" fill="#111" transform="rotate(-47 183.8 786.0)"><tspan font-style="italic">Smad1</tspan> KO</text>
<text x="217.2" y="786.0" font-size="11.5" text-anchor="end" fill="#111" transform="rotate(-47 217.2 786.0)"><tspan font-style="italic">Zbtb7b</tspan> KO</text>
<circle cx="242.9" cy="595.0" r="5.2" fill="#7f7f7f"/>
<text x="251.8" y="598.7" font-size="10.5" text-anchor="start" fill="#1a1a1a">C0: Flk1 neg cells</text>
<circle cx="242.9" cy="607.5" r="5.2" fill="#1c6fae"/>
<text x="251.8" y="611.2" font-size="10.5" text-anchor="start" fill="#1a1a1a">C1: priMes 1</text>
<circle cx="242.9" cy="620.0" r="5.2" fill="#249a4e"/>
<text x="251.8" y="623.7" font-size="10.5" text-anchor="start" fill="#1a1a1a">C2: priMes 2</text>
<circle cx="242.9" cy="632.5" r="5.2" fill="#8166a3"/>
<text x="251.8" y="636.2" font-size="10.5" text-anchor="start" fill="#1a1a1a">C3: Foxf1hi mesoderm</text>
<circle cx="242.9" cy="645.0" r="5.2" fill="#8a5247"/>
<text x="251.8" y="648.7" font-size="10.5" text-anchor="start" fill="#1a1a1a">C4: pre-HEM</text>
<circle cx="242.9" cy="657.5" r="5.2" fill="#ec7f32"/>
<text x="251.8" y="661.2" font-size="10.5" text-anchor="start" fill="#1a1a1a">C5: HEM 1</text>
<circle cx="242.9" cy="670.0" r="5.2" fill="#d8232f"/>
<text x="251.8" y="673.7" font-size="10.5" text-anchor="start" fill="#1a1a1a">C6: HEM 2</text>
<circle cx="242.9" cy="682.5" r="5.2" fill="#b0b43c"/>
<text x="251.8" y="686.2" font-size="10.5" text-anchor="start" fill="#1a1a1a">C7: neuroectoderm</text>
<circle cx="242.9" cy="695.0" r="5.2" fill="#d578a8"/>
<text x="251.8" y="698.7" font-size="10.5" text-anchor="start" fill="#1a1a1a">C8: mixed mesoderm</text>
<circle cx="242.9" cy="707.5" r="5.2" fill="#14b2c2"/>
<text x="251.8" y="711.2" font-size="10.5" text-anchor="start" fill="#1a1a1a">C9: early endothelial progenitors</text>
<text x="-0.5" y="845.8" font-size="10.8" text-anchor="start" fill="#1a1a1a">e</text>
<text x="12.3" y="894" font-size="11.7" text-anchor="middle" fill="#111" transform="rotate(-90 12.3 894)">Proportion [%]</text>
<line x1="35.0" y1="856.3" x2="35.0" y2="936.9" stroke="#222" stroke-width="0.9"/>
<line x1="35.0" y1="936.9" x2="115.6" y2="936.9" stroke="#222" stroke-width="0.9"/>
<line x1="31.8" y1="856.3" x2="35.0" y2="856.3" stroke="#222" stroke-width="0.7"/>
<text x="31.4" y="858.3" font-size="5.8" text-anchor="end" fill="#000" font-weight="bold">40</text>
<line x1="31.8" y1="876.4499999999999" x2="35.0" y2="876.4499999999999" stroke="#222" stroke-width="0.7"/>
<text x="31.4" y="878.4" font-size="5.8" text-anchor="end" fill="#000" font-weight="bold">30</text>
<line x1="31.8" y1="896.5999999999999" x2="35.0" y2="896.5999999999999" stroke="#222" stroke-width="0.7"/>
<text x="31.4" y="898.6" font-size="5.8" text-anchor="end" fill="#000" font-weight="bold">20</text>
<line x1="31.8" y1="916.75" x2="35.0" y2="916.75" stroke="#222" stroke-width="0.7"/>
<text x="31.4" y="918.8" font-size="5.8" text-anchor="end" fill="#000" font-weight="bold">10</text>
<line x1="31.8" y1="936.9" x2="35.0" y2="936.9" stroke="#222" stroke-width="0.7"/>
<text x="31.4" y="938.9" font-size="5.8" text-anchor="end" fill="#000" font-weight="bold">0</text>
<rect x="39.3" y="868.6" width="8.4" height="68.3" fill="#111" stroke="#111" stroke-width="0.5"/>
<text x="47.2" y="942.4" font-size="6.3" text-anchor="end" fill="#000" transform="rotate(-45 47.2 942.4)">CTRL</text>
<rect x="52.0" y="864.0" width="8.4" height="72.9" fill="#8c1a22" stroke="#111" stroke-width="0.5"/>
<text x="60.0" y="942.4" font-size="6.3" text-anchor="end" fill="#000" transform="rotate(-45 60.0 942.4)"><tspan font-style="italic">Etv2</tspan> KO</text>
<rect x="64.8" y="876.4" width="8.4" height="60.5" fill="#8c1a22" stroke="#111" stroke-width="0.5"/>
<text x="72.8" y="942.4" font-size="6.3" text-anchor="end" fill="#000" transform="rotate(-45 72.8 942.4)"><tspan font-style="italic">Ldb1</tspan> KO</text>
<rect x="77.5" y="877.1" width="8.4" height="59.8" fill="#8c1a22" stroke="#111" stroke-width="0.5"/>
<text x="85.5" y="942.4" font-size="6.3" text-anchor="end" fill="#000" transform="rotate(-45 85.5 942.4)"><tspan font-style="italic">Six4</tspan> KO</text>
<rect x="90.3" y="935.1" width="8.4" height="1.8" fill="#8c1a22" stroke="#111" stroke-width="0.5"/>
<text x="98.2" y="942.4" font-size="6.3" text-anchor="end" fill="#000" transform="rotate(-45 98.2 942.4)"><tspan font-style="italic">Smad1</tspan> KO</text>
<rect x="103.0" y="908.1" width="8.4" height="28.8" fill="#8c1a22" stroke="#111" stroke-width="0.5"/>
<text x="111.0" y="942.4" font-size="6.3" text-anchor="end" fill="#000" transform="rotate(-45 111.0 942.4)"><tspan font-style="italic">Zbtb7b</tspan> KO</text>
<text x="38.5" y="853.8" font-size="10.6" text-anchor="start" fill="#111">Cluster 3</text>
<line x1="127.4" y1="856.3" x2="127.4" y2="936.9" stroke="#222" stroke-width="0.9"/>
<line x1="127.4" y1="936.9" x2="208.0" y2="936.9" stroke="#222" stroke-width="0.9"/>
<line x1="124.2" y1="856.3" x2="127.4" y2="856.3" stroke="#222" stroke-width="0.7"/>
<text x="123.80000000000001" y="858.3" font-size="5.8" text-anchor="end" fill="#000" font-weight="bold">40</text>
<line x1="124.2" y1="876.4499999999999" x2="127.4" y2="876.4499999999999" stroke="#222" stroke-width="0.7"/>
<text x="123.80000000000001" y="878.4" font-size="5.8" text-anchor="end" fill="#000" font-weight="bold">30</text>
<line x1="124.2" y1="896.5999999999999" x2="127.4" y2="896.5999999999999" stroke="#222" stroke-width="0.7"/>
<text x="123.80000000000001" y="898.6" font-size="5.8" text-anchor="end" fill="#000" font-weight="bold">20</text>
<line x1="124.2" y1="916.75" x2="127.4" y2="916.75" stroke="#222" stroke-width="0.7"/>
<text x="123.80000000000001" y="918.8" font-size="5.8" text-anchor="end" fill="#000" font-weight="bold">10</text>
<line x1="124.2" y1="936.9" x2="127.4" y2="936.9" stroke="#222" stroke-width="0.7"/>
<text x="123.80000000000001" y="938.9" font-size="5.8" text-anchor="end" fill="#000" font-weight="bold">0</text>
<rect x="131.7" y="926.4" width="8.4" height="10.5" fill="#111" stroke="#111" stroke-width="0.5"/>
<text x="138.6" y="942.4" font-size="6.3" text-anchor="end" fill="#000" transform="rotate(-45 138.6 942.4)">CTRL</text>
<rect x="144.5" y="936.3" width="8.4" height="0.6" fill="#8c1a22" stroke="#111" stroke-width="0.5"/>
<text x="151.3" y="942.4" font-size="6.3" text-anchor="end" fill="#000" transform="rotate(-45 151.3 942.4)"><tspan font-style="italic">Etv2</tspan> KO</text>
<rect x="157.2" y="871.2" width="8.4" height="65.7" fill="#8c1a22" stroke="#111" stroke-width="0.5"/>
<text x="164.1" y="942.4" font-size="6.3" text-anchor="end" fill="#000" transform="rotate(-45 164.1 942.4)"><tspan font-style="italic">Ldb1</tspan> KO</text>
<rect x="170.0" y="918.4" width="8.4" height="18.5" fill="#8c1a22" stroke="#111" stroke-width="0.5"/>
<text x="176.8" y="942.4" font-size="6.3" text-anchor="end" fill="#000" transform="rotate(-45 176.8 942.4)"><tspan font-style="italic">Six4</tspan> KO</text>
<rect x="182.7" y="936.5" width="8.4" height="0.4" fill="#8c1a22" stroke="#111" stroke-width="0.5"/>
<text x="189.6" y="942.4" font-size="6.3" text-anchor="end" fill="#000" transform="rotate(-45 189.6 942.4)"><tspan font-style="italic">Smad1</tspan> KO</text>
<rect x="195.5" y="894.2" width="8.4" height="42.7" fill="#8c1a22" stroke="#111" stroke-width="0.5"/>
<text x="202.3" y="942.4" font-size="6.3" text-anchor="end" fill="#000" transform="rotate(-45 202.3 942.4)"><tspan font-style="italic">Zbtb7b</tspan> KO</text>
<text x="130.9" y="853.8" font-size="10.6" text-anchor="start" fill="#111">Cluster 5</text>
<line x1="225.5" y1="856.3" x2="225.5" y2="936.9" stroke="#222" stroke-width="0.9"/>
<line x1="225.5" y1="936.9" x2="306.1" y2="936.9" stroke="#222" stroke-width="0.9"/>
<line x1="222.3" y1="856.3" x2="225.5" y2="856.3" stroke="#222" stroke-width="0.7"/>
<text x="221.9" y="858.3" font-size="5.8" text-anchor="end" fill="#000" font-weight="bold">40</text>
<line x1="222.3" y1="876.4499999999999" x2="225.5" y2="876.4499999999999" stroke="#222" stroke-width="0.7"/>
<text x="221.9" y="878.4" font-size="5.8" text-anchor="end" fill="#000" font-weight="bold">30</text>
<line x1="222.3" y1="896.5999999999999" x2="225.5" y2="896.5999999999999" stroke="#222" stroke-width="0.7"/>
<text x="221.9" y="898.6" font-size="5.8" text-anchor="end" fill="#000" font-weight="bold">20</text>
<line x1="222.3" y1="916.75" x2="225.5" y2="916.75" stroke="#222" stroke-width="0.7"/>
<text x="221.9" y="918.8" font-size="5.8" text-anchor="end" fill="#000" font-weight="bold">10</text>
<line x1="222.3" y1="936.9" x2="225.5" y2="936.9" stroke="#222" stroke-width="0.7"/>
<text x="221.9" y="938.9" font-size="5.8" text-anchor="end" fill="#000" font-weight="bold">0</text>
<rect x="229.8" y="865.0" width="8.4" height="71.9" fill="#111" stroke="#111" stroke-width="0.5"/>
<text x="241.8" y="942.4" font-size="6.3" text-anchor="end" fill="#000" transform="rotate(-45 241.8 942.4)">CTRL</text>
<text x="254.5" y="942.4" font-size="6.3" text-anchor="end" fill="#000" transform="rotate(-45 254.5 942.4)"><tspan font-style="italic">Etv2</tspan> KO</text>
<rect x="255.3" y="936.3" width="8.4" height="0.6" fill="#8c1a22" stroke="#111" stroke-width="0.5"/>
<text x="267.2" y="942.4" font-size="6.3" text-anchor="end" fill="#000" transform="rotate(-45 267.2 942.4)"><tspan font-style="italic">Ldb1</tspan> KO</text>
<rect x="268.1" y="911.3" width="8.4" height="25.6" fill="#8c1a22" stroke="#111" stroke-width="0.5"/>
<text x="280.0" y="942.4" font-size="6.3" text-anchor="end" fill="#000" transform="rotate(-45 280.0 942.4)"><tspan font-style="italic">Six4</tspan> KO</text>
<rect x="280.8" y="936.5" width="8.4" height="0.4" fill="#8c1a22" stroke="#111" stroke-width="0.5"/>
<text x="292.8" y="942.4" font-size="6.3" text-anchor="end" fill="#000" transform="rotate(-45 292.8 942.4)"><tspan font-style="italic">Smad1</tspan> KO</text>
<rect x="293.6" y="873.0" width="8.4" height="63.9" fill="#8c1a22" stroke="#111" stroke-width="0.5"/>
<text x="305.5" y="942.4" font-size="6.3" text-anchor="end" fill="#000" transform="rotate(-45 305.5 942.4)"><tspan font-style="italic">Zbtb7b</tspan> KO</text>
<text x="229.0" y="853.8" font-size="10.6" text-anchor="start" fill="#111">Cluster 6</text>
<line x1="320.4" y1="856.3" x2="320.4" y2="936.9" stroke="#222" stroke-width="0.9"/>
<line x1="320.4" y1="936.9" x2="401.0" y2="936.9" stroke="#222" stroke-width="0.9"/>
<line x1="317.2" y1="856.3" x2="320.4" y2="856.3" stroke="#222" stroke-width="0.7"/>
<text x="316.79999999999995" y="858.3" font-size="5.8" text-anchor="end" fill="#000" font-weight="bold">15</text>
<line x1="317.2" y1="883.1666666666666" x2="320.4" y2="883.1666666666666" stroke="#222" stroke-width="0.7"/>
<text x="316.79999999999995" y="885.2" font-size="5.8" text-anchor="end" fill="#000" font-weight="bold">10</text>
<line x1="317.2" y1="910.0333333333333" x2="320.4" y2="910.0333333333333" stroke="#222" stroke-width="0.7"/>
<text x="316.79999999999995" y="912.0" font-size="5.8" text-anchor="end" fill="#000" font-weight="bold">5</text>
<line x1="317.2" y1="936.9" x2="320.4" y2="936.9" stroke="#222" stroke-width="0.7"/>
<text x="316.79999999999995" y="938.9" font-size="5.8" text-anchor="end" fill="#000" font-weight="bold">0</text>
<text x="342.6" y="942.4" font-size="6.3" text-anchor="end" fill="#000" transform="rotate(-45 342.6 942.4)">CTRL</text>
<rect x="337.4" y="936.1" width="8.4" height="0.8" fill="#8c1a22" stroke="#111" stroke-width="0.5"/>
<text x="355.3" y="942.4" font-size="6.3" text-anchor="end" fill="#000" transform="rotate(-45 355.3 942.4)"><tspan font-style="italic">Etv2</tspan> KO</text>
<text x="368.1" y="942.4" font-size="6.3" text-anchor="end" fill="#000" transform="rotate(-45 368.1 942.4)"><tspan font-style="italic">Ldb1</tspan> KO</text>
<rect x="362.9" y="935.8" width="8.4" height="1.1" fill="#8c1a22" stroke="#111" stroke-width="0.5"/>
<text x="380.8" y="942.4" font-size="6.3" text-anchor="end" fill="#000" transform="rotate(-45 380.8 942.4)"><tspan font-style="italic">Six4</tspan> KO</text>
<rect x="375.7" y="884.2" width="8.4" height="52.7" fill="#8c1a22" stroke="#111" stroke-width="0.5"/>
<text x="393.6" y="942.4" font-size="6.3" text-anchor="end" fill="#000" transform="rotate(-45 393.6 942.4)"><tspan font-style="italic">Smad1</tspan> KO</text>
<text x="406.3" y="942.4" font-size="6.3" text-anchor="end" fill="#000" transform="rotate(-45 406.3 942.4)"><tspan font-style="italic">Zbtb7b</tspan> KO</text>
<text x="323.9" y="853.8" font-size="10.6" text-anchor="start" fill="#111">Cluster 7</text>
<line x1="414.0" y1="856.3" x2="414.0" y2="936.9" stroke="#222" stroke-width="0.9"/>
<line x1="414.0" y1="936.9" x2="494.6" y2="936.9" stroke="#222" stroke-width="0.9"/>
<line x1="410.8" y1="856.3" x2="414.0" y2="856.3" stroke="#222" stroke-width="0.7"/>
<text x="410.4" y="858.3" font-size="5.8" text-anchor="end" fill="#000" font-weight="bold">80</text>
<line x1="410.8" y1="876.4499999999999" x2="414.0" y2="876.4499999999999" stroke="#222" stroke-width="0.7"/>
<text x="410.4" y="878.4" font-size="5.8" text-anchor="end" fill="#000" font-weight="bold">60</text>
<line x1="410.8" y1="896.5999999999999" x2="414.0" y2="896.5999999999999" stroke="#222" stroke-width="0.7"/>
<text x="410.4" y="898.6" font-size="5.8" text-anchor="end" fill="#000" font-weight="bold">40</text>
<line x1="410.8" y1="916.75" x2="414.0" y2="916.75" stroke="#222" stroke-width="0.7"/>
<text x="410.4" y="918.8" font-size="5.8" text-anchor="end" fill="#000" font-weight="bold">20</text>
<line x1="410.8" y1="936.9" x2="414.0" y2="936.9" stroke="#222" stroke-width="0.7"/>
<text x="410.4" y="938.9" font-size="5.8" text-anchor="end" fill="#000" font-weight="bold">0</text>
<text x="432.6" y="942.4" font-size="6.3" text-anchor="end" fill="#000" transform="rotate(-45 432.6 942.4)">CTRL</text>
<text x="445.3" y="942.4" font-size="6.3" text-anchor="end" fill="#000" transform="rotate(-45 445.3 942.4)"><tspan font-style="italic">Etv2</tspan> KO</text>
<text x="458.1" y="942.4" font-size="6.3" text-anchor="end" fill="#000" transform="rotate(-45 458.1 942.4)"><tspan font-style="italic">Ldb1</tspan> KO</text>
<rect x="456.6" y="936.6" width="8.4" height="0.3" fill="#8c1a22" stroke="#111" stroke-width="0.5"/>
<text x="470.8" y="942.4" font-size="6.3" text-anchor="end" fill="#000" transform="rotate(-45 470.8 942.4)"><tspan font-style="italic">Six4</tspan> KO</text>
<rect x="469.3" y="866.8" width="8.4" height="70.1" fill="#8c1a22" stroke="#111" stroke-width="0.5"/>
<text x="483.6" y="942.4" font-size="6.3" text-anchor="end" fill="#000" transform="rotate(-45 483.6 942.4)"><tspan font-style="italic">Smad1</tspan> KO</text>
<rect x="482.1" y="936.7" width="8.4" height="0.2" fill="#8c1a22" stroke="#111" stroke-width="0.5"/>
<text x="496.3" y="942.4" font-size="6.3" text-anchor="end" fill="#000" transform="rotate(-45 496.3 942.4)"><tspan font-style="italic">Zbtb7b</tspan> KO</text>
<text x="417.5" y="853.8" font-size="10.6" text-anchor="start" fill="#111">Cluster 8</text>
<line x1="510.1" y1="856.3" x2="510.1" y2="936.9" stroke="#222" stroke-width="0.9"/>
<line x1="510.1" y1="936.9" x2="590.7" y2="936.9" stroke="#222" stroke-width="0.9"/>
<line x1="506.90000000000003" y1="856.3" x2="510.1" y2="856.3" stroke="#222" stroke-width="0.7"/>
<text x="506.5" y="858.3" font-size="5.8" text-anchor="end" fill="#000" font-weight="bold">10</text>
<line x1="506.90000000000003" y1="872.42" x2="510.1" y2="872.42" stroke="#222" stroke-width="0.7"/>
<text x="506.5" y="874.4" font-size="5.8" text-anchor="end" fill="#000" font-weight="bold">8</text>
<line x1="506.90000000000003" y1="888.54" x2="510.1" y2="888.54" stroke="#222" stroke-width="0.7"/>
<text x="506.5" y="890.5" font-size="5.8" text-anchor="end" fill="#000" font-weight="bold">6</text>
<line x1="506.90000000000003" y1="904.66" x2="510.1" y2="904.66" stroke="#222" stroke-width="0.7"/>
<text x="506.5" y="906.7" font-size="5.8" text-anchor="end" fill="#000" font-weight="bold">4</text>
<line x1="506.90000000000003" y1="920.78" x2="510.1" y2="920.78" stroke="#222" stroke-width="0.7"/>
<text x="506.5" y="922.8" font-size="5.8" text-anchor="end" fill="#000" font-weight="bold">2</text>
<line x1="506.90000000000003" y1="936.9" x2="510.1" y2="936.9" stroke="#222" stroke-width="0.7"/>
<text x="506.5" y="938.9" font-size="5.8" text-anchor="end" fill="#000" font-weight="bold">0</text>
<rect x="514.4" y="926.4" width="8.4" height="10.5" fill="#111" stroke="#111" stroke-width="0.5"/>
<text x="523.0" y="942.4" font-size="6.3" text-anchor="end" fill="#000" transform="rotate(-45 523.0 942.4)">CTRL</text>
<text x="535.8" y="942.4" font-size="6.3" text-anchor="end" fill="#000" transform="rotate(-45 535.8 942.4)"><tspan font-style="italic">Etv2</tspan> KO</text>
<rect x="539.9" y="936.1" width="8.4" height="0.8" fill="#8c1a22" stroke="#111" stroke-width="0.5"/>
<text x="548.5" y="942.4" font-size="6.3" text-anchor="end" fill="#000" transform="rotate(-45 548.5 942.4)"><tspan font-style="italic">Ldb1</tspan> KO</text>
<rect x="552.6" y="934.5" width="8.4" height="2.4" fill="#8c1a22" stroke="#111" stroke-width="0.5"/>
<text x="561.3" y="942.4" font-size="6.3" text-anchor="end" fill="#000" transform="rotate(-45 561.3 942.4)"><tspan font-style="italic">Six4</tspan> KO</text>
<rect x="565.4" y="861.5" width="8.4" height="75.4" fill="#8c1a22" stroke="#111" stroke-width="0.5"/>
<text x="574.0" y="942.4" font-size="6.3" text-anchor="end" fill="#000" transform="rotate(-45 574.0 942.4)"><tspan font-style="italic">Smad1</tspan> KO</text>
<rect x="578.1" y="921.6" width="8.4" height="15.3" fill="#8c1a22" stroke="#111" stroke-width="0.5"/>
<text x="586.8" y="942.4" font-size="6.3" text-anchor="end" fill="#000" transform="rotate(-45 586.8 942.4)"><tspan font-style="italic">Zbtb7b</tspan> KO</text>
<text x="513.6" y="853.8" font-size="10.6" text-anchor="start" fill="#111">Cluster 9</text>
<text x="403.6" y="566.4" font-size="10.8" text-anchor="start" fill="#1a1a1a">f</text>
<line x1="439.7" y1="568.5" x2="439.7" y2="640.7" stroke="#777" stroke-width="1.0"/>
<line x1="439.7" y1="640.7" x2="570.3" y2="640.7" stroke="#777" stroke-width="1.0"/>
<text x="442.7" y="570.9" font-size="10.4" text-anchor="start" fill="#111">Control</text>
<line x1="439.7" y1="657.5" x2="439.7" y2="730.2" stroke="#777" stroke-width="1.0"/>
<line x1="439.7" y1="730.2" x2="570.3" y2="730.2" stroke="#777" stroke-width="1.0"/>
<text x="442.7" y="660.0" font-size="10.4" text-anchor="start" fill="#111"><tspan font-style="italic">Zbtb7b</tspan> KO</text>
<line x1="439.7" y1="747" x2="439.7" y2="820.2" stroke="#777" stroke-width="1.0"/>
<line x1="439.7" y1="820.2" x2="570.3" y2="820.2" stroke="#777" stroke-width="1.0"/>
<text x="442.7" y="750.9" font-size="10.4" text-anchor="start" fill="#111"><tspan font-style="italic">Smad1</tspan> KO</text>
<text x="431.5" y="692.3" font-size="10.3" text-anchor="middle" fill="#111" transform="rotate(-90 431.5 692.3)">UMAP2</text>
<text x="505.6" y="831.5" font-size="10.3" text-anchor="middle" fill="#111">UMAP1</text>
<text x="580.6" y="570.6" font-size="10.3" text-anchor="start" fill="#111">Pseudotime</text>
<rect x="594.8" y="581.2" width="10.1" height="47.7" fill="url(#pst)"/>
<text x="608.9" y="583.9" font-size="8.8" text-anchor="start" fill="#111">100</text>
<text x="608.9" y="595.8" font-size="8.8" text-anchor="start" fill="#111">75</text>
<text x="608.9" y="608.1" font-size="8.8" text-anchor="start" fill="#111">50</text>
<text x="608.9" y="619.9" font-size="8.8" text-anchor="start" fill="#111">25</text>
<path d="M455.7,585.7C461.0,583.4 478.4,582.8 487.3,581.8C496.1,580.8 506.3,578.2 508.9,579.8C511.6,581.5 508.3,589.0 503.0,591.6C497.8,594.3 485.3,594.9 477.4,595.6C469.5,596.2 459.4,597.2 455.7,595.6C452.1,593.9 450.5,588.0 455.7,585.7Z" fill="#b8a8d0" fill-opacity="0.1" filter="url(#bl)"/>
<clipPath id="cp8"><path d="M447.9,597.6C449.2,596.0 452.8,593.9 455.7,593.2C458.7,592.6 462.0,592.9 465.6,593.6C469.2,594.3 474.1,596.3 477.4,597.6C480.7,598.8 482.0,601.8 485.3,601.1C488.6,600.5 493.2,595.5 497.1,593.6C501.1,591.8 505.0,590.0 508.9,590.1C512.9,590.1 516.8,594.5 520.8,594.0C524.7,593.6 529.0,589.5 532.6,587.3C536.2,585.1 539.5,580.6 542.5,581.0C545.4,581.4 548.0,587.2 550.3,589.7C552.6,592.1 553.9,593.6 556.2,595.6C558.6,597.6 564.5,599.5 564.5,601.9C564.5,604.3 558.9,607.5 556.2,609.8C553.6,612.0 551.7,613.1 548.4,615.3C545.1,617.5 540.5,620.7 536.5,623.2C532.6,625.6 528.7,628.1 524.7,630.1C520.8,632.1 516.8,633.8 512.9,635.0C508.9,636.2 505.3,637.3 501.1,637.4C496.8,637.4 491.9,636.8 487.3,635.4C482.7,634.0 477.7,631.7 473.5,629.1C469.2,626.5 465.3,623.1 461.6,619.6C458.0,616.2 454.2,611.3 451.8,608.4C449.4,605.5 448.1,604.3 447.5,602.5C446.8,600.7 446.5,599.1 447.9,597.6Z"/></clipPath>
<g filter="url(#bl1)"><g clip-path="url(#cp8)">
<rect x="438" y="568" width="180" height="100" fill="#f6c6c3"/>
<polygon points="485.3,601.5 497.1,568.0 522.7,568.0 522.7,607.4 516.8,619.2 503.0,617.3 491.2,613.3" fill="#f6c7c5"/><polygon points="485.3,601.5 497.1,568.0 522.7,568.0 522.7,607.4 516.8,619.2 503.0,617.3 491.2,613.3" fill="url(#spf)"/>
<polygon points="438.0,568.0 477.4,568.0 479.4,601.5 484.3,607.4 478.4,614.3 465.6,616.3 438.0,627.1" fill="#7c7cb7"/><polygon points="438.0,568.0 477.4,568.0 479.4,601.5 484.3,607.4 478.4,614.3 465.6,616.3 438.0,627.1" fill="url(#spf)"/>
<polygon points="461.6,614.3 478.4,603.9 487.3,611.8 497.1,623.6 503.0,646.8 438.0,646.8" fill="#9049aa"/><polygon points="461.6,614.3 478.4,603.9 487.3,611.8 497.1,623.6 503.0,646.8 438.0,646.8" fill="url(#spf)"/>
<polygon points="494.2,618.3 501.5,611.8 512.9,615.7 515.3,627.5 513.9,646.8 497.1,646.8" fill="#d26f9c"/><polygon points="494.2,618.3 501.5,611.8 512.9,615.7 515.3,627.5 513.9,646.8 497.1,646.8" fill="url(#spf)"/>
<polygon points="511.3,615.7 524.7,607.4 540.5,603.5 549.4,611.8 576.0,627.1 576.0,646.8 513.3,646.8" fill="#f4a15a"/><polygon points="511.3,615.7 524.7,607.4 540.5,603.5 549.4,611.8 576.0,627.1 576.0,646.8 513.3,646.8" fill="url(#spf)"/>
<polygon points="516.8,595.6 532.6,568.0 576.0,568.0 554.3,603.9 544.4,607.8 528.7,607.8 520.8,603.9" fill="#f6c64c"/>
<polygon points="553.3,594.6 576.0,597.6 576.0,627.1 556.2,610.4 548.4,615.3 541.5,618.8 548.4,609.8" fill="#e0e33f"/><polygon points="553.3,594.6 576.0,597.6 576.0,627.1 556.2,610.4 548.4,615.3 541.5,618.8 548.4,609.8" fill="url(#spf)"/>
</g></g>
<clipPath id="cp9"><path d="M447.9,688.5C449.3,686.2 454.1,683.5 457.7,683.2C461.3,682.9 466.2,685.0 469.5,686.6C472.8,688.1 474.1,692.0 477.4,692.5C480.7,693.0 485.0,690.7 489.2,689.5C493.5,688.4 499.1,686.6 503.0,685.6C507.0,684.6 509.3,684.7 512.9,683.6C516.5,682.5 520.8,680.2 524.7,679.1C528.7,677.9 532.8,677.6 536.5,676.7C540.3,675.8 544.8,673.2 547.4,673.8C550.0,674.3 550.2,678.0 552.3,680.3C554.4,682.6 558.2,685.6 560.2,687.5C562.2,689.5 564.8,690.5 564.5,692.1C564.3,693.6 561.3,696.3 558.6,696.8C555.9,697.4 552.0,695.0 548.4,695.4C544.7,695.9 540.5,697.2 536.5,699.4C532.6,701.5 527.3,705.4 524.7,708.2C522.1,711.0 522.4,713.5 520.8,716.1C519.1,718.8 518.1,722.4 514.9,724.0C511.6,725.6 506.0,726.1 501.1,725.6C496.1,725.1 490.6,723.0 485.3,721.1C480.0,719.1 474.1,717.1 469.5,714.2C464.9,711.2 461.2,706.1 457.7,703.3C454.3,700.5 450.5,699.9 448.8,697.4C447.2,694.9 446.4,690.9 447.9,688.5Z"/></clipPath>
<g filter="url(#bl1)"><g clip-path="url(#cp9)">
<rect x="438" y="657" width="180" height="100" fill="#ecc0d4"/>
<polygon points="497.1,716.1 512.9,710.2 524.7,710.2 524.7,735.8 497.1,735.8" fill="#f7cbc8"/><polygon points="497.1,716.1 512.9,710.2 524.7,710.2 524.7,735.8 497.1,735.8" fill="url(#spf)"/>
<polygon points="438.0,657.0 475.4,657.0 477.4,693.5 475.4,700.8 463.6,702.7 438.0,702.3" fill="#7070b1"/><polygon points="438.0,657.0 475.4,657.0 477.4,693.5 475.4,700.8 463.6,702.7 438.0,702.3" fill="url(#spf)"/>
<polygon points="473.5,694.4 487.3,690.5 503.0,657.0 513.9,657.0 513.9,688.5 507.0,698.4 495.2,704.3 481.4,704.7 473.5,700.8" fill="#b96fb5"/><polygon points="473.5,694.4 487.3,690.5 503.0,657.0 513.9,657.0 513.9,688.5 507.0,698.4 495.2,704.3 481.4,704.7 473.5,700.8" fill="url(#spf)"/>
<polygon points="513.9,657.0 536.5,657.0 545.4,686.6 548.4,694.8 536.5,698.8 522.7,696.8 514.9,694.8" fill="#f29f7b"/><polygon points="513.9,657.0 536.5,657.0 545.4,686.6 548.4,694.8 536.5,698.8 522.7,696.8 514.9,694.8" fill="url(#spf)"/>
<polygon points="536.5,680.6 548.4,680.6 576.0,686.6 576.0,716.1 548.4,696.0 542.5,690.9" fill="#f8c463"/><polygon points="536.5,680.6 548.4,680.6 576.0,686.6 576.0,716.1 548.4,696.0 542.5,690.9" fill="url(#spf)"/>
<polygon points="536.5,657.0 576.0,657.0 576.0,680.6 551.3,681.0 544.4,684.0 538.5,682.0" fill="#e3e652"/><polygon points="536.5,657.0 576.0,657.0 576.0,680.6 551.3,681.0 544.4,684.0 538.5,682.0" fill="url(#spf)"/>
</g></g>
<path d="M483.3,678.7C486.3,676.7 498.8,674.4 503.0,674.7C507.3,675.1 509.9,678.7 508.9,680.6C508.0,682.6 501.1,685.6 497.1,686.6C493.2,687.5 487.6,687.9 485.3,686.6C483.0,685.2 480.4,680.6 483.3,678.7Z" fill="#c4407c" fill-opacity="0.15" filter="url(#bl)"/>
<path d="M449.8,780.5C451.8,777.5 461.6,778.5 469.5,780.5C477.4,782.5 487.9,789.4 497.1,792.3C506.3,795.3 519.5,795.0 524.7,798.2C530.0,801.5 531.6,809.2 528.7,812.0C525.7,814.8 515.5,815.3 507.0,815.0C498.4,814.7 485.6,812.9 477.4,810.1C469.2,807.3 462.3,803.2 457.7,798.2C453.1,793.3 447.9,783.5 449.8,780.5Z" fill="#d890b0" fill-opacity="0.14" filter="url(#bl)"/>
<path d="M447.9,776.6C451.0,775.2 462.6,776.9 467.6,778.5C472.5,780.2 476.4,783.1 477.4,786.4C478.4,789.7 476.8,796.9 473.5,798.2C470.2,799.6 461.8,796.3 457.7,794.3C453.6,792.3 450.5,789.4 448.8,786.4C447.2,783.5 444.7,777.9 447.9,776.6Z" fill="#3b3c94" fill-opacity="0.15" filter="url(#bl)"/>
<path d="M522.7,768.7C526.4,766.4 538.8,763.8 544.4,764.7C550.0,765.7 556.9,771.0 556.2,774.6C555.6,778.2 546.1,785.8 540.5,786.4C534.9,787.1 525.7,781.5 522.7,778.5C519.8,775.6 519.1,771.0 522.7,768.7Z" fill="#e8e070" fill-opacity="0.12" filter="url(#bl)"/>
<linearGradient id="smg" gradientUnits="userSpaceOnUse" x1="487" y1="0" x2="545" y2="0"><stop offset="0" stop-color="#d9608f"/><stop offset="0.45" stop-color="#f49a5c"/><stop offset="1" stop-color="#ece07a" stop-opacity="0.6"/></linearGradient>
<clipPath id="cp10"><path d="M446.9,761.2C448.4,759.4 451.6,760.1 455.7,759.8C459.8,759.5 466.2,759.7 471.5,759.2C476.8,758.7 483.0,757.2 487.3,756.9C491.5,756.5 493.2,756.5 497.1,756.9C501.1,757.2 506.7,758.2 510.9,758.8C515.2,759.4 519.1,760.1 522.7,760.4C526.4,760.7 529.0,760.9 532.6,760.8C536.2,760.7 542.3,759.3 544.4,759.6C546.6,759.9 547.9,761.8 545.6,762.8C543.3,763.7 535.4,764.7 530.6,765.1C525.8,765.6 521.8,765.5 516.8,765.5C511.9,765.5 505.3,764.6 501.1,765.1C496.8,765.7 493.5,767.6 491.2,768.7C488.9,769.8 489.6,770.8 487.3,771.6C485.0,772.4 479.7,773.1 477.4,773.4C475.1,773.7 475.0,772.4 473.5,773.4C472.0,774.4 471.5,778.0 468.5,779.3C465.6,780.6 459.2,781.3 455.7,781.3C452.3,781.3 449.4,781.1 447.9,779.3C446.3,777.5 446.4,773.7 446.3,770.6C446.1,767.6 445.3,763.0 446.9,761.2Z"/></clipPath><g filter="url(#bl1)"><g clip-path="url(#cp10)">
<rect x="438" y="747" width="140" height="80" fill="url(#smg)"/>
<polygon points="438.0,747.0 459.7,747.0 461.6,766.7 467.6,769.1 474.5,773.6 468.5,786.4 438.0,786.4" fill="#5353a1"/><polygon points="438.0,747.0 459.7,747.0 461.6,766.7 467.6,769.1 474.5,773.6 468.5,786.4 438.0,786.4" fill="url(#spf)"/>
<polygon points="459.7,747.0 488.3,747.0 491.6,763.8 487.3,771.0 477.4,773.6 467.6,771.0 461.6,767.7" fill="#ac50a2"/><polygon points="459.7,747.0 488.3,747.0 491.6,763.8 487.3,771.0 477.4,773.6 467.6,771.0 461.6,767.7" fill="url(#spf)"/>
</g></g>
<path d="M489.6,771.0C490.3,769.8 498.5,766.4 501.5,765.7C504.4,765.0 508.0,765.5 507.4,766.7C506.7,767.9 500.5,772.3 497.5,773.0C494.6,773.7 489.0,772.3 489.6,771.0Z" fill="#c4407c" fill-opacity="0.5" filter="url(#bl)"/>
</svg></body></html>
